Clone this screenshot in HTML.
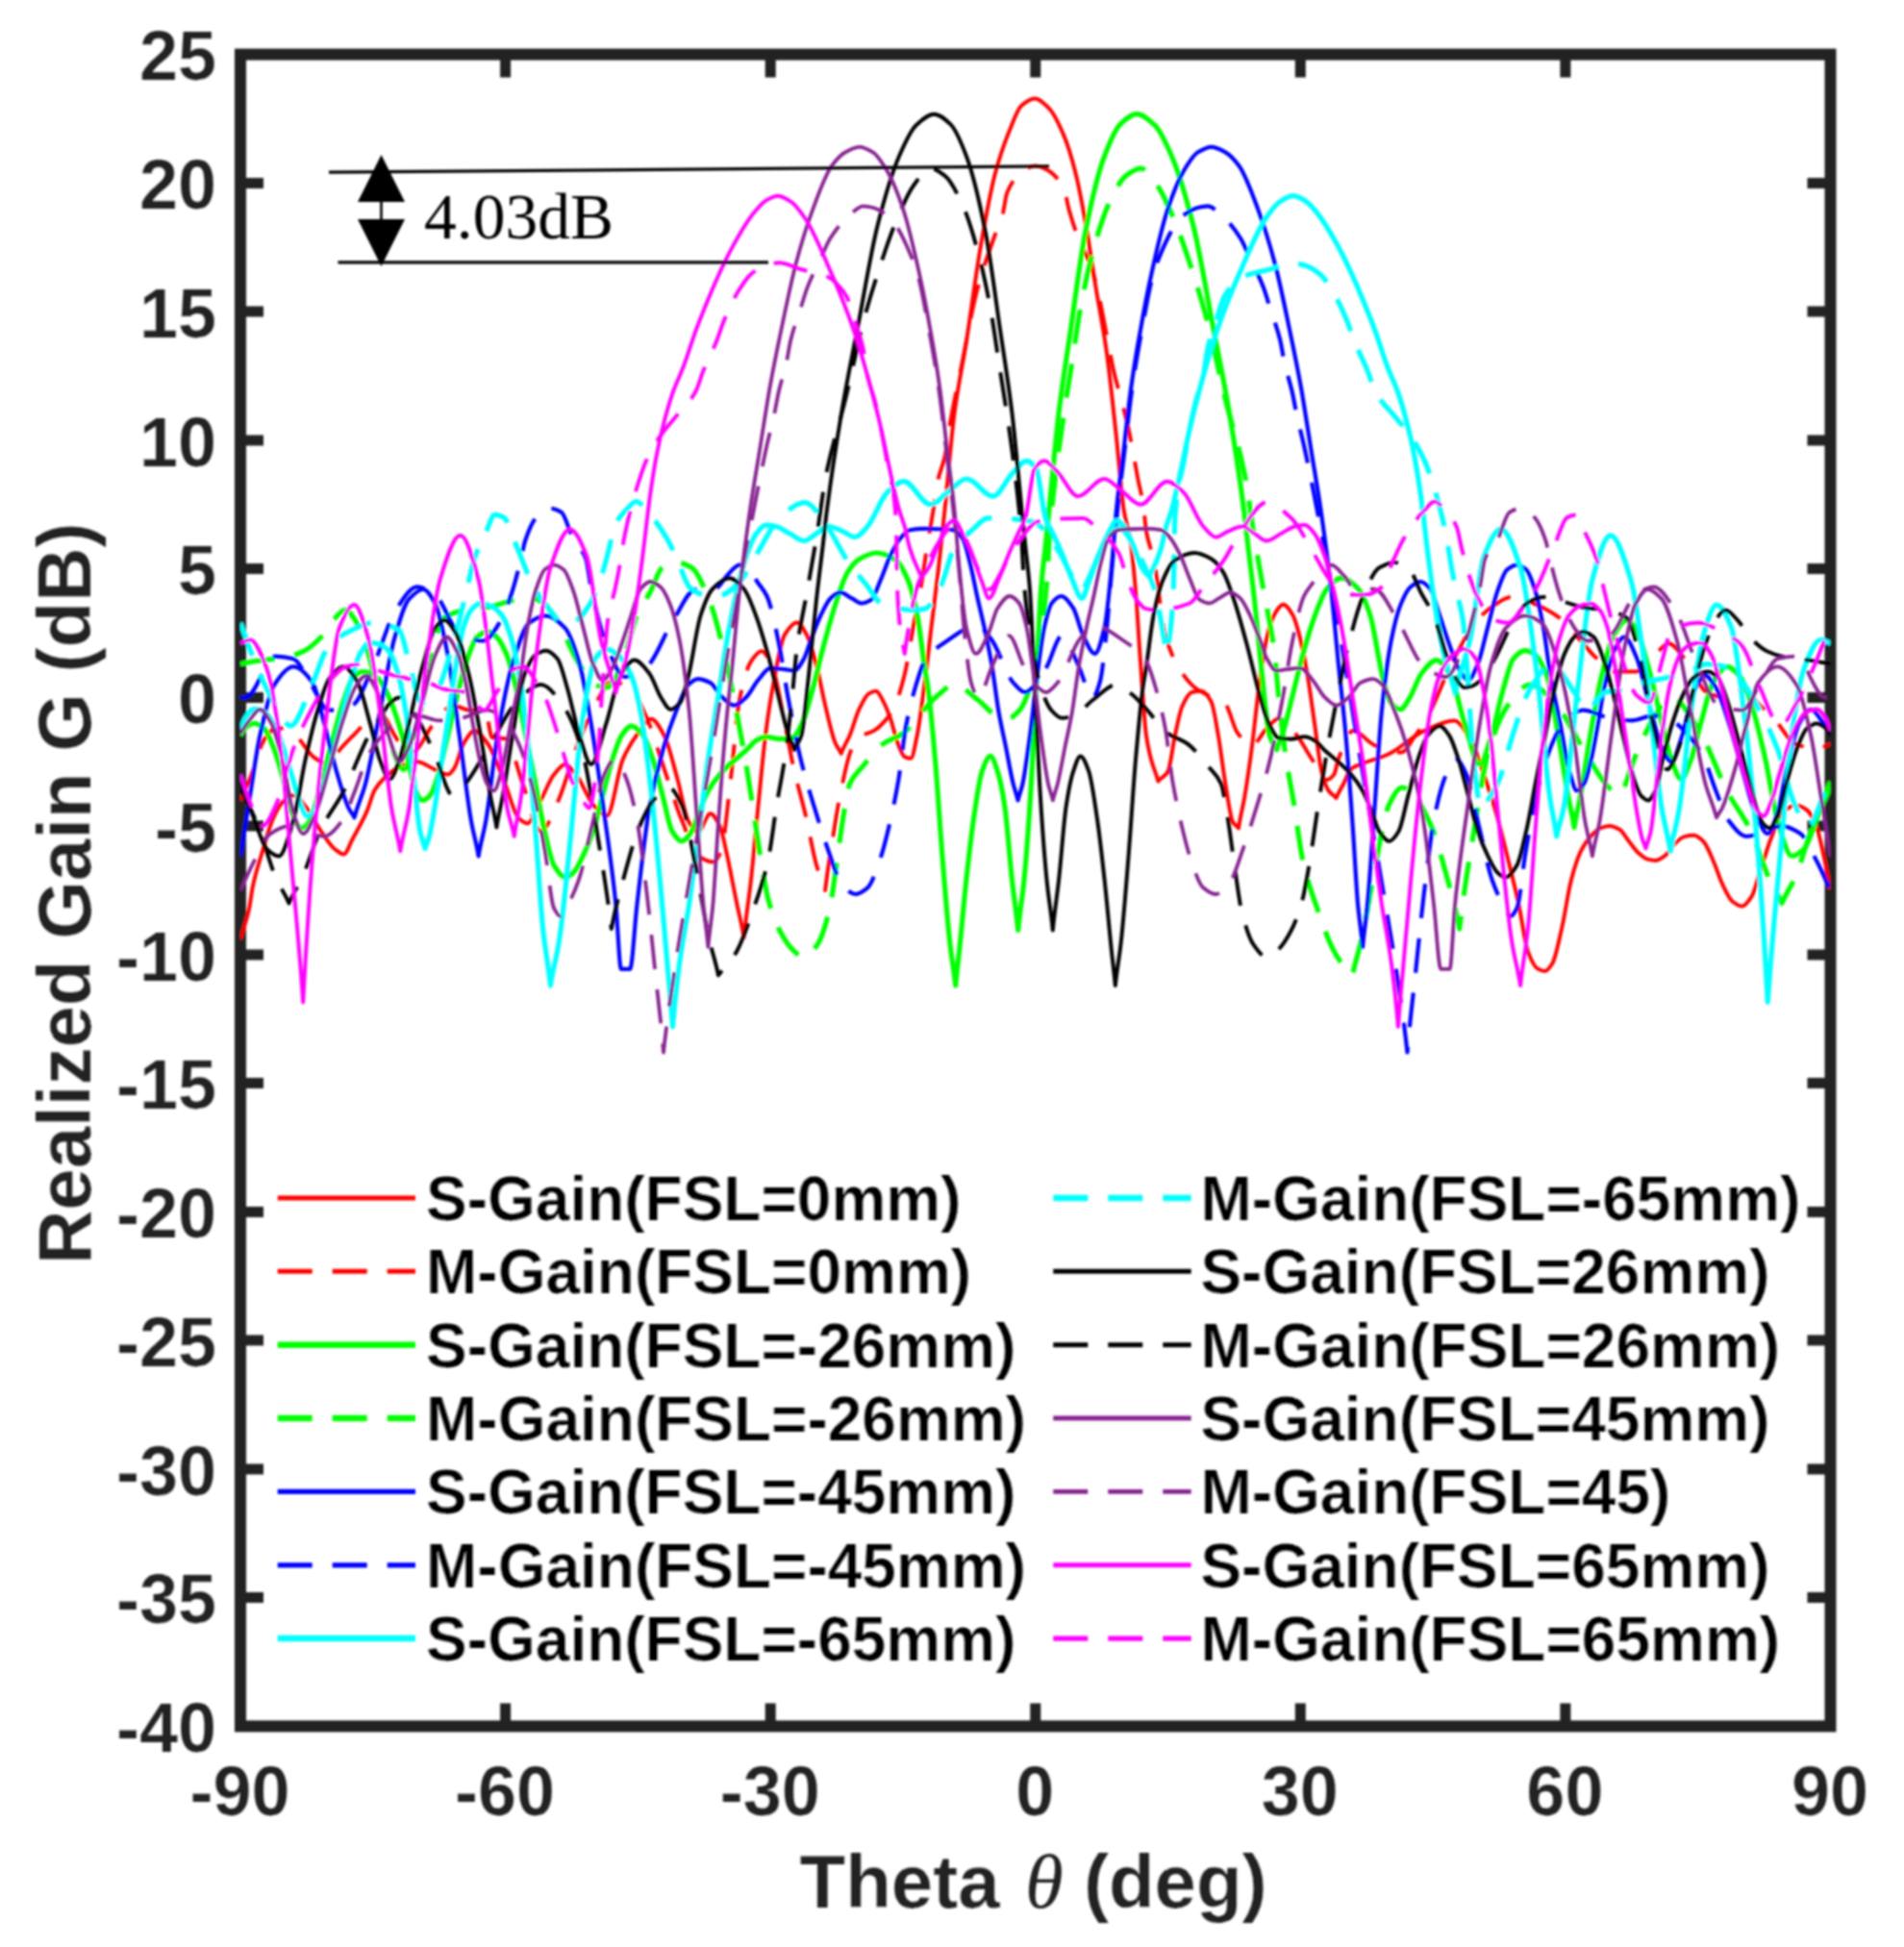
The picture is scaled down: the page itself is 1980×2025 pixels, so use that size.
<!DOCTYPE html>
<html><head><meta charset="utf-8"><title>Realized Gain</title>
<style>html,body{margin:0;padding:0;background:#fff}svg{display:block}text{font-family:"Liberation Sans",sans-serif;font-weight:bold}.tk{font-size:72px;fill:#222}.lb{font-size:78px;fill:#222}.lg{font-size:64px;fill:#000}.tk,.lb,.lg{stroke:#fff;stroke-width:0.22px;stroke-linejoin:round}.an{font-family:"Liberation Serif",serif;font-weight:normal;font-size:67.5px;fill:#000}</style></head><body>
<svg width="1980" height="2025" viewBox="0 0 1980 2025">
<rect width="1980" height="2025" fill="#fff"/>
<defs><clipPath id="cp"><rect x="250.0" y="56.6" width="1653.5" height="1738.8"/></clipPath><filter id="bl" x="-2%" y="-2%" width="104%" height="104%"><feGaussianBlur stdDeviation="1.15"/></filter></defs>
<g filter="url(#bl)">
<rect x="250.0" y="56.6" width="1653.5" height="1738.8" fill="none" stroke="#222222" stroke-width="12.0"/>
<path d="M525.6 56.6 v24.0 M525.6 1795.4 v-24.0M801.2 56.6 v24.0 M801.2 1795.4 v-24.0M1076.8 56.6 v24.0 M1076.8 1795.4 v-24.0M1352.3 56.6 v24.0 M1352.3 1795.4 v-24.0M1627.9 56.6 v24.0 M1627.9 1795.4 v-24.0M250.0 1661.6 h24.0 M1903.5 1661.6 h-24.0M250.0 1527.9 h24.0 M1903.5 1527.9 h-24.0M250.0 1394.1 h24.0 M1903.5 1394.1 h-24.0M250.0 1260.4 h24.0 M1903.5 1260.4 h-24.0M250.0 1126.6 h24.0 M1903.5 1126.6 h-24.0M250.0 992.9 h24.0 M1903.5 992.9 h-24.0M250.0 859.1 h24.0 M1903.5 859.1 h-24.0M250.0 725.4 h24.0 M1903.5 725.4 h-24.0M250.0 591.6 h24.0 M1903.5 591.6 h-24.0M250.0 457.9 h24.0 M1903.5 457.9 h-24.0M250.0 324.1 h24.0 M1903.5 324.1 h-24.0M250.0 190.4 h24.0 M1903.5 190.4 h-24.0" stroke="#222222" stroke-width="11" fill="none"/>
<g clip-path="url(#cp)" fill="none" stroke-linejoin="round">
<path d="M250.0 976.8C253.1 966.1 256.1 959.0 259.2 944.7C260.4 939.0 261.6 927.8 262.9 922.0C265.9 907.4 269.0 898.9 272.0 888.5C275.9 875.6 279.7 861.1 283.5 852.4C286.7 845.1 290.0 838.2 293.2 835.0C297.2 831.1 301.1 827.0 305.1 827.0C309.7 827.0 314.3 834.9 318.9 840.4C324.1 846.7 329.3 858.1 334.5 865.5C339.1 872.1 343.7 879.6 348.3 883.2C351.4 885.6 354.4 888.5 357.5 888.5C360.5 888.5 363.6 878.1 366.7 872.5C371.7 863.2 376.8 854.8 381.8 843.1C384.4 837.0 387.0 826.1 389.6 821.7C393.3 815.4 397.0 811.7 400.7 808.3C405.6 803.8 410.5 799.7 415.4 797.6C421.5 795.0 427.6 792.2 433.7 792.2C439.8 792.2 446.0 797.8 452.1 800.3C456.7 802.2 461.3 805.6 465.9 805.6C468.0 805.6 470.2 802.2 472.3 799.2C475.7 794.5 479.0 778.1 482.4 772.7C486.1 766.8 489.8 760.1 493.4 760.1C498.0 760.1 502.6 767.3 507.2 773.5C513.3 781.8 519.5 801.5 525.6 816.3C530.2 827.5 534.8 846.9 539.4 851.1C542.4 853.9 545.5 856.4 548.5 856.4C553.1 856.4 557.7 840.8 562.3 832.4C566.9 823.9 571.5 811.3 576.1 805.6C579.9 800.9 583.8 794.9 587.6 794.9C591.4 794.9 595.2 801.1 599.1 805.6C605.2 812.9 611.3 831.3 617.4 837.7C622.0 842.6 626.6 848.4 631.2 848.4C636.7 848.4 642.2 802.3 647.8 789.6C653.0 777.6 658.2 769.7 663.4 762.8C668.0 756.7 672.6 747.8 677.2 747.8C681.7 747.8 686.3 757.0 690.9 765.5C695.5 774.0 700.1 794.5 704.7 811.0C708.4 824.1 712.1 847.5 715.7 853.8C719.1 859.5 722.5 865.0 725.8 865.0C730.1 865.0 734.4 846.3 738.7 846.3C742.1 846.3 745.4 852.9 748.8 859.9C751.3 865.0 753.7 879.0 756.2 889.9C759.5 904.9 762.9 923.6 766.3 939.9C768.7 951.8 771.2 960.4 773.6 975.0C776.1 950.0 778.5 937.3 781.0 915.0C783.4 892.8 785.9 864.3 788.3 839.9C790.9 814.2 793.5 785.2 796.0 765.0C798.5 745.2 801.0 728.4 803.6 714.9C807.7 692.5 811.9 666.8 816.0 660.1C820.3 653.2 824.5 647.5 828.7 647.5C832.1 647.5 835.5 654.1 838.8 660.1C842.1 665.9 845.3 678.2 848.6 690.1C851.9 702.2 855.2 721.4 858.5 735.0C861.8 748.7 865.2 764.5 868.5 772.5C870.6 777.4 872.6 779.0 874.7 783.7C877.6 775.9 880.6 772.0 883.6 765.0C886.9 757.1 890.2 744.1 893.5 737.4C896.8 730.6 900.2 723.2 903.5 721.4C906.0 719.9 908.5 718.7 911.0 718.7C913.6 718.7 916.2 725.2 918.7 729.9C921.2 734.4 923.6 740.7 926.1 747.6C928.5 754.5 931.0 766.3 933.4 772.5C936.0 778.8 938.5 786.5 941.1 787.4C943.1 788.2 945.2 788.8 947.2 788.8C949.4 788.8 951.5 775.2 953.7 765.0C956.1 753.3 958.6 733.2 961.0 714.9C963.5 696.2 966.0 673.4 968.5 652.6C971.0 631.8 973.6 612.1 976.1 590.0C978.2 571.2 980.4 550.7 982.5 530.1C985.8 498.0 989.2 455.3 992.5 430.0C996.7 398.5 1000.8 381.2 1005.0 354.9C1010.0 323.4 1015.0 283.6 1020.0 255.1C1025.0 226.4 1030.0 198.7 1035.0 179.9C1040.1 161.2 1045.1 147.2 1050.1 135.0C1054.1 125.3 1058.1 113.6 1062.1 110.1C1066.7 106.1 1071.4 102.6 1076.0 102.6C1081.0 102.6 1086.0 107.8 1091.0 112.8C1096.0 117.7 1101.0 128.4 1106.0 140.1C1110.2 149.8 1114.4 163.5 1118.5 179.9C1121.9 193.0 1125.2 211.3 1128.6 229.9C1131.9 248.4 1135.2 272.2 1138.5 292.5C1142.6 318.2 1146.8 337.6 1151.0 367.4C1154.3 391.4 1157.6 424.2 1161.0 455.2C1163.5 478.8 1166.1 513.9 1168.6 530.1C1171.1 545.7 1173.5 548.8 1176.0 564.9C1177.6 575.9 1179.3 594.9 1181.0 614.9C1182.7 634.9 1184.4 667.1 1186.1 690.1C1188.1 717.2 1190.0 750.9 1192.0 765.0C1193.7 776.8 1195.4 783.6 1197.1 790.1C1199.5 799.5 1202.0 803.2 1204.4 812.6C1207.8 808.3 1211.2 808.3 1214.5 802.4C1217.0 798.1 1219.4 776.1 1221.9 765.0C1224.3 753.9 1226.8 740.5 1229.2 735.0C1232.6 727.5 1236.0 720.8 1239.3 720.0C1242.7 719.2 1246.1 718.7 1249.4 718.7C1252.8 718.7 1256.2 723.6 1259.6 729.9C1262.0 734.5 1264.5 751.2 1266.9 765.0C1269.4 778.7 1271.8 800.6 1274.3 815.0C1276.9 830.2 1279.5 850.8 1282.1 855.1C1284.0 858.4 1286.0 858.7 1288.0 861.3C1290.2 847.2 1292.3 840.2 1294.5 827.6C1296.9 813.1 1299.4 796.1 1301.8 777.5C1304.3 759.0 1306.7 732.8 1309.2 714.9C1311.8 695.8 1314.4 676.1 1317.1 664.9C1319.6 653.9 1322.2 644.5 1324.8 640.0C1328.0 634.4 1331.3 628.8 1334.5 628.8C1337.8 628.8 1341.2 634.4 1344.5 640.0C1347.1 644.4 1349.7 654.7 1352.3 664.9C1354.8 674.5 1357.2 688.1 1359.7 702.4C1362.1 716.6 1364.6 735.4 1367.0 752.1C1369.5 768.8 1371.9 792.9 1374.4 802.4C1376.8 812.0 1379.3 819.0 1381.7 822.5C1384.3 826.2 1386.9 826.8 1389.5 830.0C1392.1 823.7 1394.7 820.1 1397.3 815.0C1399.8 810.1 1402.2 802.0 1404.7 800.0C1408.1 797.2 1411.4 796.4 1414.8 794.9C1424.6 790.7 1434.4 788.8 1444.2 784.2C1456.4 778.5 1468.7 765.6 1480.9 760.1C1491.3 755.5 1501.8 749.4 1512.2 749.4C1518.6 749.4 1525.0 762.1 1531.5 773.5C1535.0 779.9 1538.6 792.7 1542.1 802.9C1546.2 814.8 1550.3 826.5 1554.4 840.4C1558.7 855.0 1563.0 872.7 1567.3 889.9C1571.3 905.9 1575.2 921.5 1579.2 939.9C1582.5 954.9 1585.7 981.4 1589.0 989.9C1592.3 998.7 1595.6 1005.8 1599.0 1007.6C1601.5 1008.9 1604.0 1010.0 1606.5 1010.0C1609.1 1010.0 1611.6 1006.4 1614.1 1002.5C1617.5 997.4 1620.9 979.6 1624.2 965.1C1627.5 951.1 1630.7 927.3 1634.0 915.0C1637.3 902.4 1640.7 891.7 1644.0 885.1C1647.3 878.4 1650.7 873.8 1654.0 870.1C1657.3 866.4 1660.7 862.5 1664.0 861.3C1667.3 860.0 1670.6 858.9 1673.8 858.9C1677.2 858.9 1680.6 860.7 1684.0 862.6C1687.3 864.5 1690.7 871.0 1694.1 875.2C1697.4 879.3 1700.8 884.6 1704.2 887.5C1707.4 890.3 1710.7 893.2 1714.0 893.9C1716.5 894.5 1719.0 895.0 1721.5 895.0C1724.9 895.0 1728.2 892.3 1731.5 889.9C1734.9 887.5 1738.2 880.7 1741.5 877.6C1744.9 874.5 1748.2 870.8 1751.6 870.1C1754.9 869.3 1758.2 868.8 1761.6 868.8C1764.9 868.8 1768.2 872.0 1771.5 875.2C1774.8 878.4 1778.2 887.6 1781.5 895.0C1784.8 902.3 1788.1 913.3 1791.4 920.1C1794.8 927.0 1798.2 934.9 1801.5 937.5C1804.9 940.1 1808.3 942.6 1811.6 942.6C1814.9 942.6 1818.3 937.5 1821.6 932.4C1824.9 927.3 1828.2 912.5 1831.6 902.5C1834.9 892.5 1838.2 881.0 1841.5 872.5C1845.6 861.9 1849.8 848.8 1853.9 844.9C1858.2 841.0 1862.5 837.5 1866.8 837.5C1870.9 837.5 1875.0 839.7 1879.1 842.5C1882.4 844.8 1885.7 851.7 1889.1 859.9C1891.6 866.1 1894.0 878.8 1896.5 889.9C1898.8 900.3 1901.2 913.2 1903.5 924.9" stroke="#ff0000" stroke-width="4.0"/>
<path d="M250.0 832.4C253.7 823.9 257.3 816.2 261.0 807.0C265.3 796.1 269.6 777.4 273.9 770.8C278.2 764.3 282.5 757.5 286.7 757.5C289.5 757.5 292.3 757.5 295.0 757.5C299.3 757.5 303.6 762.1 307.9 765.5C314.3 770.6 320.7 784.1 327.2 788.2C332.1 791.4 337.0 794.9 341.9 794.9C345.5 794.9 349.2 784.6 352.9 780.2C358.4 773.7 363.9 768.4 369.4 762.8C373.7 758.5 378.0 752.8 382.3 750.2C387.2 747.3 392.1 744.1 397.0 744.1C401.6 744.1 406.2 758.8 410.8 765.5C415.4 772.2 419.9 784.2 424.5 784.2C427.3 784.2 430.0 782.1 432.8 780.2C437.7 776.8 442.6 764.2 447.5 757.5C451.5 752.0 455.5 746.8 459.4 742.8C463.1 739.1 466.8 733.4 470.5 733.4C476.6 733.4 482.7 738.7 488.8 738.7C494.0 738.7 499.2 738.7 504.5 738.7C506.9 738.7 509.4 766.7 511.8 767.1C516.4 767.9 521.0 767.5 525.6 768.2C531.7 769.1 537.8 800.3 544.0 816.3C550.1 832.4 556.2 864.5 562.3 864.5C568.5 864.5 574.6 845.7 580.7 832.4C586.8 819.0 592.9 794.7 599.1 778.9C605.2 763.0 611.3 747.0 617.4 736.1C623.6 725.1 629.7 709.3 635.8 709.3C641.9 709.3 648.1 711.6 654.2 714.7C660.3 717.7 666.4 733.4 672.6 746.8C678.7 760.1 684.8 782.4 690.9 800.3C697.1 818.1 703.2 839.1 709.3 853.8C715.4 868.5 721.6 887.4 727.7 891.2C732.3 894.1 736.9 896.6 741.5 896.6C744.2 896.6 747.0 891.8 749.7 885.9C753.1 878.6 756.5 838.4 759.8 811.0C762.9 786.0 766.0 743.3 769.0 728.0C773.0 708.2 777.0 693.9 781.0 687.9C784.6 682.4 788.3 677.2 792.0 677.2C795.7 677.2 799.3 685.2 803.0 693.3C806.7 701.3 810.4 724.1 814.0 741.4C817.7 758.7 821.4 781.2 825.1 797.6C829.3 816.7 833.6 830.1 837.9 848.4C841.6 864.1 845.3 886.2 848.9 899.2C852.0 910.1 855.1 914.9 858.1 926.0C860.6 904.8 863.0 890.7 865.5 875.2C868.5 855.7 871.6 836.0 874.7 821.7C878.3 804.4 882.0 786.1 885.7 778.9C889.0 772.3 892.4 767.7 895.8 765.5C900.1 762.7 904.4 762.6 908.6 760.1C912.6 757.9 916.6 754.0 920.6 749.4C924.0 745.6 927.3 740.6 930.7 733.4C934.2 726.0 937.6 714.2 941.1 700.0C943.7 689.0 946.4 670.1 949.1 655.8C951.8 641.1 954.6 629.0 957.3 613.0C959.8 598.8 962.2 579.9 964.7 564.9C966.5 553.6 968.4 544.1 970.2 532.8C971.8 522.7 973.4 508.2 975.1 500.7C977.5 489.2 980.0 486.2 982.5 475.0C984.2 467.2 985.9 452.4 987.6 442.6C991.9 418.2 996.2 399.0 1000.5 377.6C1005.4 353.2 1010.3 324.4 1015.2 305.4C1021.0 282.8 1026.8 267.0 1032.7 250.0C1036.0 240.2 1039.4 234.7 1042.8 222.5C1044.3 216.9 1045.8 203.4 1047.4 200.0C1054.1 184.8 1060.8 178.1 1067.6 175.1C1070.6 173.8 1073.7 172.4 1076.8 172.4C1079.8 172.4 1082.9 173.8 1085.9 175.1C1092.7 178.0 1099.4 183.4 1106.1 195.7C1108.1 199.3 1110.1 212.9 1112.1 219.8C1115.5 231.5 1118.9 241.5 1122.2 250.0C1126.0 259.7 1129.9 264.6 1133.7 274.9C1136.2 281.5 1138.6 290.2 1141.1 300.0C1144.1 312.3 1147.2 330.2 1150.2 345.5C1153.0 359.3 1155.8 375.7 1158.5 387.5C1161.0 398.0 1163.4 405.6 1165.9 415.1C1168.3 424.5 1170.8 433.4 1173.2 444.5C1175.0 452.8 1176.9 462.8 1178.7 472.6C1180.2 480.7 1181.8 490.1 1183.3 498.0C1185.1 507.5 1187.0 513.0 1188.8 524.7C1189.9 531.6 1191.0 546.5 1192.0 552.6C1194.6 567.2 1197.2 570.2 1199.8 582.5C1203.8 601.4 1207.8 645.6 1211.8 660.1C1216.1 675.7 1220.4 685.1 1224.6 692.5C1230.5 702.5 1236.3 710.0 1242.1 714.7C1248.2 719.6 1254.3 722.0 1260.5 725.4C1265.1 727.9 1269.7 728.6 1274.3 732.6C1278.5 736.3 1282.8 757.1 1287.1 762.6C1292.0 768.7 1296.9 775.1 1301.8 775.1C1307.0 775.1 1312.2 762.4 1317.4 757.5C1321.4 753.7 1325.4 747.6 1329.4 747.6C1335.2 747.6 1341.0 756.1 1346.8 762.6C1352.6 769.0 1358.5 781.1 1364.3 789.6C1369.5 797.1 1374.7 811.0 1379.9 811.0C1382.3 811.0 1384.8 808.7 1387.2 805.6C1388.8 803.7 1390.3 793.6 1391.8 789.6C1396.9 776.2 1402.0 760.1 1407.1 760.1C1414.6 760.1 1422.0 772.2 1429.5 775.1C1438.7 778.7 1447.9 782.6 1457.1 782.6C1462.0 782.6 1466.9 771.7 1471.8 765.0C1477.0 757.8 1482.2 749.9 1487.4 740.1C1492.3 730.9 1497.2 717.2 1502.1 706.6C1507.3 695.4 1512.5 683.9 1517.7 674.5C1523.8 663.5 1529.9 652.0 1536.1 645.1C1542.2 638.2 1548.3 632.9 1554.4 629.1C1559.9 625.6 1565.5 621.0 1571.0 621.0C1577.7 621.0 1584.4 624.1 1591.2 626.4C1601.3 629.9 1611.4 635.1 1621.5 642.4C1628.2 647.3 1635.0 656.5 1641.7 663.8C1647.2 669.9 1652.7 677.4 1658.2 682.6C1665.0 688.9 1671.7 698.6 1678.4 698.6C1686.1 698.6 1693.8 698.6 1701.4 698.6C1707.5 698.6 1713.7 687.9 1719.8 682.6C1725.0 678.1 1730.2 669.2 1735.4 669.2C1740.9 669.2 1746.4 678.8 1751.9 685.2C1759.6 694.2 1767.2 716.4 1774.9 720.0C1781.0 722.9 1787.1 725.4 1793.3 725.4C1799.4 725.4 1805.5 717.3 1811.6 717.3C1817.8 717.3 1823.9 727.6 1830.0 733.4C1836.1 739.2 1842.3 745.5 1848.4 752.1C1854.5 758.8 1860.6 771.1 1866.8 773.5C1874.4 776.6 1882.1 778.9 1889.7 778.9C1894.3 778.9 1898.9 775.3 1903.5 773.5" stroke="#ff0000" stroke-width="4.0" stroke-dasharray="36 21"/>
<path d="M250.0 765.0C251.5 762.5 253.1 758.8 254.6 757.5C257.9 754.7 261.1 752.4 264.4 752.4C267.8 752.4 271.1 754.8 274.4 757.5C277.8 760.2 281.1 769.3 284.4 777.5C287.8 785.8 291.1 798.3 294.5 809.9C297.8 821.5 301.1 840.3 304.5 847.6C307.4 854.0 310.3 861.3 313.2 861.3C315.3 861.3 317.4 859.5 319.4 857.5C322.0 855.2 324.5 847.0 327.0 839.9C330.3 830.3 333.7 814.9 337.0 802.4C340.3 789.9 343.7 777.1 347.0 765.0C350.3 752.9 353.6 739.6 356.9 729.9C360.3 720.2 363.6 708.4 366.9 705.0C370.3 701.6 373.6 698.6 377.0 698.6C379.5 698.6 382.0 699.3 384.5 700.0C387.8 700.9 391.2 703.9 394.5 707.4C397.8 711.0 401.2 718.0 404.5 725.1C407.8 732.2 411.1 741.7 414.4 752.1C417.8 762.8 421.2 776.5 424.5 790.1C427.0 800.1 429.5 817.5 432.0 822.5C434.5 827.5 437.0 832.4 439.5 832.4C442.0 832.4 444.5 830.1 447.0 827.6C449.5 825.0 452.0 817.2 454.5 809.9C457.8 800.2 461.2 783.8 464.5 770.0C467.8 756.3 471.2 740.8 474.5 727.5C477.8 714.2 481.2 699.8 484.5 690.1C488.4 678.7 492.3 665.7 496.2 662.5C499.9 659.4 503.5 656.9 507.2 656.9C510.3 656.9 513.3 659.8 516.4 662.5C519.8 665.5 523.1 672.1 526.5 679.9C529.9 687.6 533.2 701.2 536.6 714.9C540.0 728.7 543.3 748.3 546.7 765.0C550.1 781.6 553.4 797.9 556.8 815.0C560.0 831.3 563.2 851.3 566.5 865.0C569.7 878.7 572.9 894.7 576.1 900.1C580.1 906.7 584.1 912.6 588.0 912.6C590.8 912.6 593.6 910.0 596.3 907.5C599.7 904.5 603.1 896.8 606.4 889.9C609.8 883.0 613.2 875.0 616.5 865.0C619.9 855.0 623.3 840.0 626.6 827.6C630.0 815.1 633.4 800.4 636.7 790.1C640.0 780.3 643.2 769.6 646.4 765.0C649.7 760.2 653.1 755.1 656.4 755.1C660.6 755.1 664.7 759.9 668.9 765.0C672.3 769.1 675.6 780.1 679.0 790.1C682.4 800.1 685.7 815.1 689.1 827.6C692.5 840.0 695.8 859.7 699.2 865.0C702.4 870.2 705.7 874.9 708.9 874.9C712.3 874.9 715.6 869.9 719.0 865.0C721.6 861.2 724.2 851.3 726.8 844.9C730.0 837.1 733.2 828.2 736.4 822.5C740.5 815.2 744.7 809.9 748.8 805.1C753.1 800.1 757.4 796.4 761.7 792.5C766.6 788.0 771.5 784.4 776.4 779.9C779.7 776.9 783.1 771.9 786.5 770.0C789.8 768.2 793.2 766.3 796.6 766.3C801.5 766.3 806.4 768.7 811.3 768.7C815.6 768.7 819.8 768.2 824.1 767.4C827.5 766.7 830.9 759.0 834.2 752.1C837.6 745.2 841.0 731.9 844.3 720.0C848.3 706.0 852.3 687.2 856.3 672.4C860.6 656.4 864.9 640.3 869.1 627.5C873.2 615.2 877.4 601.5 881.5 595.1C885.6 588.6 889.8 583.5 893.9 581.2C899.8 578.0 905.6 575.0 911.4 575.0C918.1 575.0 924.9 578.2 931.6 582.5C935.7 585.1 939.8 593.1 943.9 602.6C947.3 610.3 950.6 623.5 953.9 640.0C956.4 652.5 959.0 676.8 961.5 693.3C962.6 700.9 963.8 706.3 965.0 714.9C967.5 733.6 970.0 761.4 972.5 790.1C975.0 818.5 977.4 859.0 979.9 889.9C982.4 921.2 985.0 954.7 987.5 977.6C989.5 996.6 991.6 1005.2 993.7 1025.0C995.0 1010.4 996.2 1002.0 997.5 989.9C1000.0 966.1 1002.4 937.6 1004.9 915.0C1007.4 892.2 1009.9 869.5 1012.4 852.4C1015.4 832.6 1018.3 810.5 1021.2 802.4C1024.1 794.3 1027.0 786.4 1029.9 786.4C1032.4 786.4 1034.9 794.9 1037.4 802.4C1039.9 809.9 1042.5 823.1 1045.0 839.9C1047.4 856.4 1049.9 892.5 1052.4 915.0C1054.5 934.2 1056.6 945.6 1058.7 967.5C1060.8 945.6 1062.9 936.4 1065.0 915.0C1067.5 889.6 1070.0 855.2 1072.4 815.0C1074.1 787.7 1075.8 748.6 1077.5 714.9C1079.1 681.9 1080.8 636.9 1082.4 614.9C1084.1 592.5 1085.8 581.6 1087.5 564.9C1088.7 553.3 1089.8 541.7 1091.0 530.1C1094.3 496.8 1097.7 457.7 1101.0 430.0C1105.2 395.5 1109.3 371.1 1113.5 342.6C1118.5 308.4 1123.5 267.8 1128.5 242.5C1135.1 208.7 1141.8 180.2 1148.5 162.5C1154.0 148.0 1159.5 134.6 1164.9 129.4C1170.7 123.9 1176.4 118.7 1182.2 118.7C1188.4 118.7 1194.6 124.4 1200.8 130.2C1206.7 135.7 1212.6 148.9 1218.5 162.5C1226.0 179.8 1233.5 205.2 1241.0 235.0C1247.7 261.5 1254.3 302.7 1261.0 337.5C1266.8 367.8 1272.7 395.6 1278.5 430.0C1283.5 459.7 1288.5 491.0 1293.5 530.1C1294.9 540.3 1296.2 553.5 1297.5 564.9C1300.0 586.3 1302.5 604.9 1304.9 627.5C1307.4 650.3 1310.0 679.9 1312.5 702.4C1315.0 725.4 1317.6 756.6 1320.2 765.0C1322.6 772.9 1325.1 773.7 1327.5 779.9C1330.0 771.6 1332.4 767.7 1334.9 759.9C1338.2 749.1 1341.6 733.3 1345.0 720.0C1348.4 706.7 1351.7 691.9 1355.1 679.9C1359.2 665.2 1363.4 650.9 1367.5 640.0C1371.6 629.2 1375.8 617.2 1379.9 612.5C1384.9 606.8 1389.9 601.2 1395.0 601.2C1400.8 601.2 1406.7 606.5 1412.5 612.5C1416.6 616.7 1420.8 627.4 1424.9 640.0C1429.2 653.2 1433.5 687.5 1437.8 704.0C1440.5 714.5 1443.3 727.1 1446.0 730.5C1449.4 734.6 1452.8 737.9 1456.1 737.9C1459.5 737.9 1462.9 730.6 1466.2 725.4C1470.2 719.2 1474.2 705.5 1478.2 700.5C1483.4 693.9 1488.6 686.6 1493.8 686.6C1498.7 686.6 1503.6 694.7 1508.5 702.9C1513.4 711.1 1518.3 738.2 1523.2 752.9C1528.4 768.6 1533.6 794.9 1538.8 794.9C1542.8 794.9 1546.8 777.5 1550.8 765.5C1555.0 752.6 1559.3 729.9 1563.6 715.5C1567.0 704.1 1570.4 689.2 1573.7 685.2C1577.7 680.6 1581.7 676.7 1585.7 676.7C1589.0 676.7 1592.4 678.4 1595.8 680.4C1600.1 683.0 1604.3 691.6 1608.6 702.9C1612.6 713.4 1616.6 742.9 1620.6 765.5C1623.9 784.6 1627.3 809.2 1630.7 827.8C1632.8 839.7 1635.0 846.9 1637.1 860.5C1639.2 846.9 1641.4 839.7 1643.5 827.8C1646.9 809.2 1650.3 784.6 1653.6 765.5C1657.6 742.9 1661.6 719.1 1665.6 702.9C1669.9 685.5 1674.2 667.8 1678.4 660.4C1682.7 652.9 1687.0 645.1 1691.3 645.1C1694.5 645.1 1697.7 649.0 1700.9 653.1C1705.1 658.4 1709.2 676.3 1713.3 690.6C1718.4 708.1 1723.5 732.8 1728.5 752.9C1731.7 765.7 1734.9 781.9 1738.2 790.4C1741.5 799.2 1744.9 810.4 1748.3 810.4C1751.6 810.4 1755.0 799.1 1758.4 790.4C1761.7 781.7 1765.1 764.7 1768.5 752.9C1772.8 737.9 1777.0 717.9 1781.3 710.4C1786.2 701.9 1791.1 693.3 1796.0 693.3C1800.9 693.3 1805.8 699.1 1810.7 705.3C1815.0 710.8 1819.3 726.4 1823.6 740.3C1827.7 753.8 1831.8 771.8 1836.0 790.4C1840.1 808.9 1844.2 839.1 1848.4 853.0C1853.4 869.9 1858.5 890.4 1863.5 890.4C1867.7 890.4 1871.8 887.0 1875.9 883.2C1880.2 879.2 1884.5 863.8 1888.8 853.0C1893.7 840.6 1898.6 826.2 1903.5 812.8" stroke="#00ff00" stroke-width="5.2"/>
<path d="M250.0 690.6C254.6 689.7 259.2 688.6 263.8 687.9C274.5 686.2 285.2 685.9 295.9 683.9C302.7 682.6 309.4 680.4 316.1 677.2C321.7 674.6 327.2 669.5 332.7 663.8C337.3 659.1 341.9 649.8 346.5 645.1C350.7 640.7 355.0 634.4 359.3 634.4C362.7 634.4 366.1 640.2 369.4 645.1C373.7 651.4 378.0 664.0 382.3 677.2C385.6 687.6 389.0 703.8 392.4 717.3C397.0 735.8 401.6 761.4 406.2 773.5C410.8 785.6 415.4 800.3 419.9 800.3C424.5 800.3 429.1 775.4 433.7 757.5C438.3 739.6 442.9 702.5 447.5 685.2C452.4 666.8 457.3 645.8 462.2 642.4C469.5 637.4 476.9 635.7 484.2 634.4C491.9 633.1 499.6 633.0 507.2 631.7C513.3 630.7 519.5 628.0 525.6 626.4C533.2 624.4 540.9 621.0 548.5 621.0C553.8 621.0 559.0 623.6 564.2 626.4C569.7 629.4 575.2 639.1 580.7 647.8C586.8 657.5 592.9 674.7 599.1 685.2C604.0 693.7 608.9 702.9 613.8 707.4C616.5 710.0 619.3 712.5 622.0 713.3C625.1 714.2 628.2 714.9 631.2 714.9C634.3 714.9 637.3 708.9 640.4 704.0C643.8 698.5 647.1 688.1 650.5 678.6C654.2 668.1 657.9 651.2 661.5 642.4C666.4 630.8 671.3 625.0 676.2 615.7C680.5 607.5 684.8 592.6 689.1 590.0C694.0 587.1 698.9 584.9 703.8 584.9C708.8 584.9 713.9 587.4 719.0 590.3C724.8 593.6 730.6 607.4 736.4 621.0C741.8 633.6 747.1 654.6 752.5 676.1C756.3 691.5 760.1 711.5 764.0 730.7C767.5 748.4 771.0 766.6 774.5 786.9C777.4 803.7 780.3 823.0 783.3 841.7C786.2 860.5 789.1 882.6 792.0 899.2C794.4 913.3 796.9 927.9 799.3 936.7C803.3 951.1 807.3 961.3 811.3 968.8C815.6 976.9 819.8 983.6 824.1 987.5C828.1 991.2 832.1 995.6 836.1 995.6C840.8 995.6 845.5 989.0 850.2 982.2C854.2 976.4 858.2 963.7 862.3 947.4C865.2 935.6 868.1 910.8 871.0 891.2C872.8 878.8 874.7 863.4 876.5 852.4C878.9 837.8 881.4 820.5 883.8 815.0C888.1 805.3 892.4 802.8 896.7 797.6C904.1 788.6 911.4 778.7 918.7 773.5C925.5 768.7 932.2 767.6 939.0 762.8C946.5 757.4 954.0 745.5 961.5 737.4C966.2 732.3 971.0 726.5 975.7 722.7C981.2 718.3 986.7 712.0 992.2 712.0C1000.5 712.0 1008.8 722.0 1017.0 728.0C1023.5 732.8 1029.9 742.0 1036.3 744.1C1040.6 745.5 1044.9 746.8 1049.2 746.8C1052.9 746.8 1056.5 742.8 1060.2 738.7C1063.9 734.7 1067.6 725.7 1071.2 714.7C1074.6 704.5 1078.0 687.3 1081.3 666.5C1083.8 651.4 1086.2 634.3 1088.7 605.0C1089.6 594.0 1090.5 568.8 1091.4 556.8C1093.7 527.0 1096.0 509.3 1098.3 490.0C1100.9 468.1 1103.5 450.4 1106.1 432.4C1109.1 412.4 1112.0 395.0 1114.9 376.3C1117.7 358.0 1120.6 336.8 1123.4 321.4C1127.6 298.8 1131.8 279.4 1136.0 263.9C1141.8 242.5 1147.6 223.1 1153.5 211.0C1159.4 198.4 1165.4 186.7 1171.4 182.3C1176.3 178.7 1181.2 175.1 1186.1 175.1C1191.9 175.1 1197.7 185.1 1203.5 193.0C1209.3 201.0 1215.2 214.9 1221.0 228.6C1227.1 243.0 1233.2 261.3 1239.3 280.0C1244.5 295.9 1249.8 312.6 1255.0 332.1C1261.4 356.2 1267.8 388.7 1274.3 415.1C1281.0 442.6 1287.7 460.1 1294.5 494.0C1297.7 510.2 1300.9 537.1 1304.1 556.8C1307.3 576.6 1310.5 594.7 1313.8 613.0C1317.4 634.0 1321.1 647.2 1324.8 674.5C1326.5 687.1 1328.1 709.7 1329.8 725.4C1332.1 746.7 1334.4 768.2 1336.7 784.2C1339.8 805.6 1342.8 819.0 1345.9 837.7C1348.8 855.5 1351.7 880.7 1354.6 893.9C1360.3 919.5 1366.0 933.8 1371.6 950.1C1376.5 964.1 1381.4 978.0 1386.3 987.5C1389.1 992.9 1391.8 997.2 1394.6 1000.9C1398.6 1006.2 1402.6 1008.7 1406.5 1014.3C1409.9 997.6 1413.3 989.5 1416.6 974.2C1421.2 953.2 1425.8 921.8 1430.4 899.2C1435.0 876.7 1439.6 847.3 1444.2 837.7C1448.8 828.2 1453.4 819.0 1458.0 819.0C1462.6 819.0 1467.2 824.8 1471.8 829.7C1477.3 835.6 1482.8 846.5 1488.3 859.1C1493.8 871.8 1499.3 892.5 1504.8 912.6C1509.1 928.3 1513.4 943.8 1517.7 966.1C1522.3 927.1 1526.9 900.5 1531.5 872.5C1537.0 838.9 1542.5 800.1 1548.0 781.5C1554.7 758.8 1561.5 742.5 1568.2 733.4C1575.9 723.0 1583.5 712.0 1591.2 712.0C1600.4 712.0 1609.5 723.7 1618.7 733.4C1627.9 743.1 1637.1 764.4 1646.3 778.9C1655.2 792.9 1664.0 810.2 1672.9 819.0C1676.3 822.3 1679.7 827.0 1683.0 827.0C1688.9 827.0 1694.7 799.6 1700.5 786.9C1706.9 772.8 1713.3 756.4 1719.8 746.8C1725.9 737.6 1732.0 725.4 1738.2 725.4C1747.3 725.4 1756.5 743.7 1765.7 757.5C1776.1 773.1 1786.5 804.8 1796.9 824.3C1804.9 839.3 1812.9 848.0 1820.8 864.5C1826.9 877.1 1833.1 899.1 1839.2 912.6C1843.8 922.8 1848.4 928.2 1853.0 939.4C1857.6 928.2 1862.2 923.2 1866.8 912.6C1872.9 898.5 1879.0 874.4 1885.1 859.1C1891.3 843.8 1897.4 832.4 1903.5 819.0" stroke="#00ff00" stroke-width="5.2" stroke-dasharray="36 21"/>
<path d="M250.0 891.2C253.4 869.8 256.7 848.0 260.1 827.0C263.5 806.1 266.8 780.9 270.2 765.5C275.1 743.0 280.0 720.5 284.9 712.8C291.6 702.2 298.4 693.3 305.1 693.3C311.9 693.3 318.6 700.7 325.3 710.4C329.3 716.1 333.3 738.1 337.3 752.9C341.6 768.9 345.8 788.4 350.1 802.9C354.3 817.0 358.4 831.8 362.5 840.4C364.5 844.5 366.5 846.2 368.5 850.3C372.3 835.7 376.2 829.5 380.0 815.3C385.0 796.4 390.1 765.7 395.1 740.3C400.0 715.8 404.9 682.9 409.8 665.4C415.0 646.9 420.2 628.5 425.5 622.9C430.4 617.7 435.3 613.0 440.2 613.0C444.3 613.0 448.4 620.3 452.6 628.0C456.7 635.7 460.8 656.9 465.0 677.8C469.2 699.4 473.5 735.2 477.8 765.5C481.8 793.6 485.8 830.2 489.8 853.0C492.4 867.8 495.0 874.8 497.6 890.4C500.2 874.8 502.8 867.8 505.4 853.0C509.4 830.2 513.3 788.8 517.3 765.5C522.5 735.0 527.7 707.6 532.9 690.6C538.8 671.6 544.6 652.0 550.4 647.8C556.2 643.5 562.0 640.3 567.8 640.3C574.4 640.3 581.0 646.2 587.6 653.1C592.6 658.5 597.7 673.4 602.7 690.6C606.7 704.1 610.7 729.4 614.7 752.9C619.0 778.2 623.3 809.3 627.5 840.4C631.8 871.5 636.1 898.4 640.4 940.4C642.2 958.5 644.1 1007.9 645.9 1007.9C649.0 1007.9 652.0 1007.9 655.1 1007.9C657.6 1007.9 660.0 961.2 662.5 940.4C666.7 904.1 671.0 864.1 675.3 840.4C680.2 813.3 685.1 794.7 690.0 777.8C694.3 763.0 698.6 751.0 702.9 740.3C707.3 729.5 711.6 716.0 716.0 712.0C719.3 709.0 722.6 706.1 725.8 706.1C730.1 706.1 734.4 708.0 738.7 710.1C742.8 712.2 746.9 721.5 751.0 725.1C755.2 728.8 759.3 733.7 763.5 733.7C767.7 733.7 771.8 729.0 776.0 725.1C780.1 721.3 784.2 712.2 788.3 707.4C792.6 702.5 796.9 694.9 801.2 694.9C806.1 694.9 811.1 695.7 816.0 696.2C819.4 696.6 822.7 697.5 826.0 697.5C829.3 697.5 832.7 690.8 836.1 685.0C838.5 680.7 841.0 671.3 843.4 664.9C846.8 656.2 850.2 646.9 853.5 640.0C856.9 633.1 860.3 625.4 863.6 622.4C867.0 619.3 870.4 616.2 873.7 616.2C877.8 616.2 881.9 620.3 886.0 622.4C889.4 624.1 892.7 627.5 896.1 627.5C899.4 627.5 902.7 625.8 906.1 623.7C909.4 621.6 912.7 610.2 916.0 602.6C919.4 594.9 922.7 584.3 926.1 577.4C929.5 570.6 932.8 564.0 936.2 560.0C939.6 556.1 942.9 551.8 946.3 551.2C951.2 550.4 956.1 549.9 961.0 549.9C966.8 549.9 972.6 550.2 978.5 550.4C982.7 550.6 986.8 550.7 991.0 551.2C994.4 551.6 997.7 555.3 1001.1 560.0C1003.6 563.6 1006.1 575.2 1008.6 584.9C1011.1 594.6 1013.6 608.6 1016.1 620.0C1018.6 631.2 1021.1 641.0 1023.6 652.6C1026.1 664.3 1028.6 675.7 1031.1 690.1C1033.6 704.2 1036.1 725.9 1038.5 740.1C1041.0 754.4 1043.6 765.0 1046.1 777.5C1048.6 790.0 1051.1 804.8 1053.6 815.0C1055.3 821.7 1056.9 825.1 1058.6 832.4C1060.2 825.1 1061.9 822.4 1063.5 815.0C1066.0 803.7 1068.5 783.5 1071.1 765.0C1073.6 746.4 1076.1 721.1 1078.6 702.4C1081.0 684.1 1083.5 663.5 1085.9 652.6C1088.5 641.3 1091.0 630.7 1093.6 627.5C1096.9 623.3 1100.2 620.0 1103.6 620.0C1107.7 620.0 1111.9 626.3 1116.1 632.5C1119.4 637.5 1122.7 653.3 1126.1 660.1C1130.2 668.6 1134.4 679.9 1138.6 679.9C1141.9 679.9 1145.2 666.7 1148.6 652.6C1151.1 642.1 1153.5 614.9 1156.0 590.0C1157.7 573.4 1159.3 546.5 1161.0 530.1C1163.5 504.9 1166.1 488.7 1168.6 467.5C1171.1 447.0 1173.5 422.6 1176.0 404.9C1179.3 380.6 1182.7 361.3 1186.1 342.6C1190.2 319.5 1194.3 298.4 1198.5 280.0C1203.5 257.4 1208.6 235.1 1213.6 219.8C1219.4 202.2 1225.3 187.3 1231.1 177.5C1236.0 169.3 1240.9 161.1 1245.8 158.3C1250.5 155.5 1255.1 152.9 1259.8 152.9C1264.6 152.9 1269.4 155.7 1274.3 158.3C1279.0 160.8 1283.7 166.0 1288.5 172.4C1295.1 181.4 1301.7 199.9 1308.2 217.6C1314.1 233.5 1320.1 252.6 1326.0 274.9C1331.0 293.8 1336.0 318.5 1341.0 342.6C1345.1 362.1 1349.2 382.0 1353.3 404.9C1356.6 423.8 1360.0 446.6 1363.4 467.5C1366.7 488.4 1370.1 507.0 1373.5 530.1C1377.1 555.3 1380.8 582.3 1384.5 614.9C1386.9 636.6 1389.4 665.7 1391.8 690.1C1394.4 715.7 1397.0 736.1 1399.5 765.0C1402.1 793.1 1404.6 829.4 1407.1 865.0C1408.7 888.5 1410.4 921.4 1412.0 939.9C1413.7 958.8 1415.4 966.1 1417.1 984.9C1418.8 966.1 1420.5 957.8 1422.1 939.9C1424.6 913.9 1427.0 873.2 1429.5 839.9C1431.9 806.6 1434.4 764.0 1436.8 740.1C1440.2 707.2 1443.6 681.6 1447.0 664.9C1450.3 648.2 1453.7 635.4 1457.1 627.5C1460.4 619.5 1463.8 612.7 1467.2 610.1C1470.5 607.5 1473.9 605.0 1477.3 605.0C1480.6 605.0 1484.0 608.5 1487.4 612.5C1490.6 616.3 1493.9 630.6 1497.1 640.0C1500.4 649.7 1503.8 660.8 1507.1 670.0C1510.3 678.9 1513.5 689.5 1516.8 694.9C1520.1 700.5 1523.5 707.4 1526.9 707.4C1530.2 707.4 1533.6 698.0 1537.0 690.1C1540.3 682.1 1543.7 665.1 1547.1 652.6C1550.4 640.1 1553.8 624.3 1557.2 614.9C1560.6 605.5 1563.9 595.1 1567.3 592.4C1570.7 589.8 1574.0 587.6 1577.4 587.6C1580.6 587.6 1583.8 589.8 1587.0 592.4C1590.3 595.1 1593.5 604.9 1596.7 614.9C1599.4 623.5 1602.2 637.5 1605.0 652.6C1607.4 666.0 1609.9 688.3 1612.3 702.4C1615.7 721.7 1619.0 735.1 1622.4 752.1C1625.6 768.4 1628.8 791.5 1632.1 802.4C1634.7 811.3 1637.3 822.5 1639.9 822.5C1642.3 822.5 1644.8 818.8 1647.2 815.0C1649.7 811.1 1652.1 800.1 1654.6 790.1C1657.0 780.1 1659.5 765.5 1661.9 752.1C1664.0 740.4 1666.2 724.8 1668.3 714.9C1671.7 699.4 1675.1 684.1 1678.4 677.2C1682.0 670.1 1685.5 662.5 1689.0 662.5C1693.1 662.5 1697.3 673.3 1701.4 682.6C1706.0 692.8 1710.6 717.4 1715.2 733.4C1719.8 749.4 1724.4 769.8 1729.0 778.9C1732.0 784.9 1735.1 792.2 1738.2 792.2C1741.8 792.2 1745.5 776.4 1749.2 765.5C1753.2 753.7 1757.1 728.4 1761.1 720.0C1765.1 711.6 1769.1 702.6 1773.1 702.6C1776.7 702.6 1780.4 709.0 1784.1 714.7C1788.7 721.7 1793.3 738.1 1797.9 752.1C1802.5 766.2 1807.0 784.7 1811.6 800.3C1816.2 815.9 1820.8 835.6 1825.4 845.7C1829.7 855.2 1834.0 867.1 1838.3 867.1C1841.6 867.1 1845.0 855.6 1848.4 845.7C1852.1 835.0 1855.7 806.9 1859.4 792.2C1863.4 776.4 1867.4 759.1 1871.3 752.1C1875.3 745.1 1879.3 737.9 1883.3 737.9C1887.0 737.9 1890.6 745.0 1894.3 749.4C1897.4 753.2 1900.4 758.4 1903.5 762.8" stroke="#0000ff" stroke-width="4.2"/>
<path d="M250.0 725.4C251.8 725.4 253.7 725.4 255.5 725.4C265.9 725.4 276.3 682.6 286.7 682.6C292.9 682.6 299.0 683.6 305.1 685.2C311.2 686.9 317.4 703.1 323.5 712.0C329.6 720.9 335.7 738.7 341.9 738.7C350.1 738.7 358.4 736.7 366.7 733.4C373.7 730.6 380.7 708.3 387.8 693.3C395.8 676.2 403.7 646.4 411.7 634.4C419.0 623.4 426.4 610.3 433.7 610.3C439.8 610.3 446.0 614.3 452.1 618.4C461.3 624.4 470.5 657.5 479.7 661.2C487.3 664.2 495.0 666.5 502.6 666.5C508.7 666.5 514.9 655.2 521.0 645.1C524.8 638.8 528.6 627.3 532.5 615.7C535.4 606.8 538.3 595.2 541.2 583.6C542.9 577.0 544.5 567.1 546.2 562.2C550.0 550.8 553.9 542.0 557.7 538.1C562.6 533.2 567.5 528.8 572.4 528.8C576.2 528.8 580.0 530.5 583.8 532.8C587.8 535.2 591.8 552.9 595.9 560.3C600.3 568.5 604.7 569.3 609.2 580.9C611.0 585.7 612.9 603.0 614.7 611.4C620.2 636.5 625.7 658.8 631.2 671.9C637.3 686.4 643.5 704.0 649.6 704.0C657.3 704.0 664.9 698.8 672.6 693.3C681.7 686.6 690.9 659.3 700.1 645.1C707.8 633.3 715.4 614.1 723.1 613.0C730.4 612.0 737.8 612.5 745.1 611.4C748.5 610.9 751.9 603.0 755.2 599.6C759.8 595.0 764.4 587.6 769.0 587.6C772.4 587.6 775.8 589.4 779.1 591.6C781.9 593.4 784.6 600.7 787.4 605.0C790.8 610.2 794.1 612.8 797.5 620.0C801.5 628.4 805.5 647.8 809.4 666.5C812.8 682.3 816.2 707.5 819.5 725.4C824.1 749.8 828.7 773.6 833.3 792.2C837.9 810.9 842.5 825.3 847.1 840.4C851.7 855.5 856.3 870.4 860.9 883.2C865.5 896.0 870.1 912.3 874.7 918.0C879.6 924.1 884.5 930.0 889.4 930.0C893.6 930.0 897.9 926.9 902.2 923.3C906.8 919.4 911.4 904.7 916.0 891.2C919.1 882.2 922.1 869.6 925.2 856.4C928.2 843.3 931.3 829.1 934.4 811.0C936.8 796.4 939.3 770.6 941.7 757.5C945.4 737.8 949.1 724.1 952.7 712.0C955.6 702.4 958.6 692.2 961.5 687.9C969.3 676.3 977.1 671.7 984.9 666.5C995.3 659.6 1005.7 650.5 1016.1 650.5C1021.0 650.5 1025.9 658.6 1030.8 664.9C1038.5 674.7 1046.1 701.6 1053.8 710.1C1057.8 714.6 1061.7 720.0 1065.7 720.0C1070.0 720.0 1074.3 714.7 1078.6 710.1C1082.0 706.5 1085.3 699.4 1088.7 693.3C1093.9 683.8 1099.1 661.2 1104.3 661.2C1109.8 661.2 1115.3 679.7 1120.8 690.6C1126.0 700.9 1131.3 725.4 1136.5 725.4C1138.9 725.4 1141.4 717.7 1143.8 709.3C1146.0 702.0 1148.1 680.8 1150.2 661.2C1152.1 644.3 1153.9 617.2 1155.8 597.0C1157.9 573.4 1160.0 550.0 1162.2 530.1C1164.6 507.3 1167.1 489.1 1169.5 468.6C1172.0 448.1 1174.4 424.5 1176.9 407.0C1180.2 383.1 1183.6 363.9 1187.0 345.5C1191.0 323.8 1194.9 300.4 1198.9 286.7C1202.6 274.0 1206.3 265.5 1209.9 257.2C1213.6 249.0 1217.3 241.1 1221.0 235.8C1225.0 230.2 1228.9 225.2 1232.9 222.5C1237.2 219.5 1241.5 217.0 1245.8 216.0C1249.1 215.2 1252.5 214.4 1255.9 214.4C1260.2 214.4 1264.5 219.0 1268.7 222.5C1275.8 228.1 1282.8 236.6 1289.9 247.6C1293.5 253.3 1297.2 262.8 1300.9 270.6C1305.2 279.8 1309.5 287.5 1313.8 298.7C1316.2 305.1 1318.7 313.8 1321.1 321.4C1324.5 332.0 1327.8 339.8 1331.2 353.5C1332.7 359.8 1334.3 370.8 1335.8 377.6C1338.4 389.2 1341.0 395.7 1343.6 407.0C1345.3 414.4 1347.0 424.7 1348.7 432.4C1351.1 443.7 1353.6 452.3 1356.0 463.2C1357.7 470.7 1359.4 479.1 1361.1 487.3C1363.1 496.9 1365.0 506.6 1367.0 516.7C1370.1 532.2 1373.2 548.7 1376.2 564.9C1379.9 584.3 1383.6 603.2 1387.2 623.7C1390.9 644.2 1394.6 665.9 1398.3 687.9C1402.9 715.5 1407.5 745.9 1412.0 773.5C1416.6 801.1 1421.2 827.0 1425.8 853.8C1430.4 880.5 1435.0 906.8 1439.6 934.0C1443.6 957.7 1447.6 979.8 1451.5 1006.3C1455.5 1032.7 1459.5 1057.7 1463.5 1094.5C1466.2 1061.1 1469.0 1040.5 1471.8 1014.3C1474.8 985.2 1477.9 953.8 1480.9 928.7C1484.6 898.5 1488.3 866.2 1492.0 848.4C1495.9 829.2 1499.9 814.3 1503.9 805.6C1507.3 798.3 1510.6 789.6 1514.0 789.6C1517.7 789.6 1521.4 797.8 1525.0 805.6C1529.3 814.8 1533.6 841.5 1537.9 859.1C1542.5 878.0 1547.1 902.1 1551.7 915.3C1555.7 926.7 1559.6 935.1 1563.6 942.1C1566.1 946.3 1568.5 952.8 1571.0 952.8C1573.1 952.8 1575.2 949.0 1577.4 944.7C1580.5 938.6 1583.5 903.3 1586.6 885.9C1591.2 859.7 1595.8 834.0 1600.4 816.3C1605.0 798.7 1609.5 783.8 1614.1 773.5C1618.7 763.2 1623.3 753.6 1627.9 749.4C1634.0 744.0 1640.2 738.7 1646.3 738.7C1655.5 738.7 1664.7 745.3 1673.8 746.8C1681.5 748.0 1689.2 749.4 1696.8 749.4C1704.5 749.4 1712.1 744.1 1719.8 744.1C1725.9 744.1 1732.0 746.8 1738.2 749.4C1744.3 752.1 1750.4 758.7 1756.5 765.5C1761.4 770.9 1766.3 777.6 1771.2 786.9C1775.5 795.1 1779.8 810.9 1784.1 821.7C1788.7 833.2 1793.3 847.8 1797.9 853.8C1804.0 861.7 1810.1 869.8 1816.2 869.8C1820.8 869.8 1825.4 868.3 1830.0 867.1C1837.7 865.3 1845.3 859.1 1853.0 859.1C1859.4 859.1 1865.8 862.8 1872.3 867.1C1878.1 871.1 1883.9 885.6 1889.7 896.6C1894.3 905.3 1898.9 916.2 1903.5 926.0" stroke="#0000ff" stroke-width="4.2" stroke-dasharray="36 21"/>
<path d="M250.0 760.1C251.5 756.0 253.1 750.0 254.6 747.6C257.9 742.4 261.1 737.4 264.4 737.4C267.8 737.4 271.1 738.6 274.4 740.1C277.8 741.5 281.1 746.7 284.4 752.1C287.8 757.6 291.1 768.0 294.5 777.5C297.8 787.0 301.1 798.9 304.5 809.9C307.0 818.2 309.5 829.1 312.0 835.0C314.5 840.9 317.0 848.7 319.4 848.7C322.0 848.7 324.5 845.7 327.0 842.5C329.5 839.4 332.0 829.8 334.5 822.5C337.8 812.8 341.1 801.7 344.4 790.1C347.8 778.4 351.1 765.4 354.4 752.1C357.8 738.8 361.1 721.8 364.5 710.1C367.8 698.4 371.1 685.4 374.5 679.9C377.8 674.4 381.1 668.7 384.5 668.7C387.8 668.7 391.2 669.2 394.5 670.0C397.8 670.8 401.2 673.6 404.5 677.5C407.8 681.3 411.1 691.1 414.4 702.4C416.9 710.9 419.5 724.4 422.0 740.1C424.5 755.7 427.0 781.5 429.5 802.4C432.0 823.1 434.5 853.2 436.9 865.0C438.6 873.0 440.3 875.2 442.0 882.4C443.2 878.3 444.4 876.7 445.7 872.5C447.8 865.2 450.0 852.3 452.1 839.9C454.5 825.7 457.0 806.5 459.4 790.1C462.0 773.3 464.5 756.8 467.0 740.1C469.5 723.4 472.0 704.4 474.5 690.1C477.0 675.9 479.5 660.5 481.9 652.6C484.5 644.6 487.0 637.9 489.5 635.0C492.8 631.1 496.2 627.5 499.5 627.5C502.8 627.5 506.2 628.7 509.5 629.9C513.6 631.4 517.8 634.9 521.9 640.0C525.3 644.2 528.6 653.8 532.0 664.9C535.4 676.0 538.8 693.5 542.1 714.9C544.6 730.5 547.0 753.5 549.5 777.5C552.0 802.2 554.5 833.9 557.0 865.0C559.5 896.1 562.0 940.8 564.5 965.1C567.2 990.5 569.8 1000.0 572.4 1025.0C575.5 1005.2 578.6 997.5 581.6 977.6C584.1 961.8 586.5 937.8 589.0 915.0C591.4 892.3 593.9 864.9 596.3 839.9C598.8 814.9 601.2 784.4 603.7 765.0C606.2 744.5 608.8 727.6 611.4 714.9C613.9 702.6 616.4 688.5 618.9 685.0C623.0 679.2 627.1 675.1 631.2 675.1C635.5 675.1 639.8 678.9 644.1 682.6C648.2 686.1 652.3 692.9 656.4 702.4C659.6 709.9 662.9 723.6 666.1 740.1C669.5 757.2 672.9 786.4 676.2 815.0C679.6 843.5 683.0 879.1 686.3 915.0C688.9 942.1 691.4 972.9 694.0 1002.5C695.8 1023.9 697.6 1040.6 699.5 1067.8C701.8 1040.6 704.2 1020.2 706.5 1002.5C709.9 977.2 713.3 962.6 716.7 939.9C720.0 917.2 723.4 890.6 726.8 865.0C730.0 840.6 733.2 812.4 736.4 790.1C739.7 767.0 743.1 748.7 746.4 727.5C749.7 706.9 752.9 683.1 756.2 664.9C759.5 646.1 762.9 629.2 766.3 614.9C769.6 600.6 773.0 586.8 776.4 577.4C779.7 568.1 783.1 559.2 786.5 555.0C789.8 550.7 793.2 546.1 796.6 546.1C799.9 546.1 803.3 546.8 806.7 547.5C811.6 548.5 816.5 552.5 821.4 555.0C826.4 557.5 831.4 562.5 836.4 562.5C840.6 562.5 844.8 557.5 848.9 555.0C853.1 552.5 857.3 547.5 861.4 547.5C866.4 547.5 871.5 550.5 876.5 552.6C880.7 554.2 884.8 558.7 889.0 558.7C893.4 558.7 897.8 552.4 902.2 547.5C909.0 540.0 915.7 518.9 922.4 512.4C928.2 506.8 934.1 500.7 939.9 500.7C949.1 500.7 958.2 524.7 967.4 524.7C974.2 524.7 980.9 514.8 987.6 510.0C993.5 505.9 999.3 498.0 1005.1 498.0C1014.3 498.0 1023.5 516.2 1032.7 516.2C1039.3 516.2 1045.9 499.3 1052.5 492.6C1057.5 487.6 1062.5 479.3 1067.6 479.3C1070.9 479.3 1074.2 482.7 1077.5 487.3C1080.8 492.0 1084.2 530.5 1087.5 540.0C1090.0 547.1 1092.5 549.7 1094.9 555.0C1098.3 562.0 1101.6 569.5 1105.0 577.4C1108.3 585.3 1111.6 595.2 1115.0 602.6C1118.3 610.0 1121.6 622.4 1125.0 622.4C1127.5 622.4 1129.9 611.2 1132.4 605.0C1135.8 596.6 1139.1 585.7 1142.4 577.4C1145.8 569.2 1149.1 561.1 1152.4 555.0C1155.4 549.6 1158.3 541.3 1161.3 541.3C1163.3 541.3 1165.4 543.2 1167.4 545.1C1170.8 548.0 1174.1 557.5 1177.4 564.9C1180.8 572.2 1184.1 584.8 1187.4 590.0C1190.0 594.0 1192.5 598.8 1195.0 598.8C1196.6 598.8 1198.2 593.4 1199.8 590.0C1202.4 584.6 1204.9 578.4 1207.5 569.9C1209.1 564.5 1210.8 554.8 1212.4 548.8C1214.4 541.5 1216.5 537.2 1218.5 530.1C1226.0 503.7 1233.5 459.5 1241.0 430.0C1249.3 397.3 1257.7 367.0 1266.0 342.6C1274.3 318.3 1282.5 298.8 1290.8 280.0C1299.2 260.8 1307.6 239.9 1316.0 227.5C1321.0 220.1 1326.1 212.8 1331.2 209.6C1335.7 206.8 1340.2 203.7 1344.7 203.7C1348.8 203.7 1352.9 206.2 1356.9 208.5C1360.8 210.7 1364.6 215.5 1368.5 220.0C1376.0 228.9 1383.4 241.5 1390.9 255.1C1403.5 277.9 1416.0 307.6 1428.6 340.2C1433.2 352.1 1437.8 368.2 1442.4 380.3C1446.0 390.0 1449.7 396.8 1453.4 407.0C1456.1 414.7 1458.9 423.6 1461.6 433.8C1464.7 445.1 1467.8 458.0 1470.8 473.9C1473.0 485.0 1475.1 499.0 1477.3 514.0C1480.0 533.4 1482.8 560.0 1485.5 580.9C1488.3 601.8 1491.0 623.2 1493.8 639.8C1496.6 656.3 1499.3 671.1 1502.1 682.6C1505.7 697.9 1509.4 704.6 1513.1 720.3C1518.3 697.4 1523.5 688.5 1528.7 665.4C1533.6 643.8 1538.5 590.8 1543.4 578.2C1549.2 563.4 1555.0 550.4 1560.9 550.4C1567.6 550.4 1574.3 569.7 1581.1 590.3C1586.9 608.1 1592.7 657.4 1598.5 702.9C1602.8 736.4 1607.1 796.6 1611.4 827.0C1613.8 844.4 1616.3 852.0 1618.7 869.8C1621.2 857.6 1623.6 853.2 1626.1 840.4C1631.0 814.8 1635.9 754.3 1640.8 715.5C1645.8 675.4 1650.9 621.8 1655.9 602.9C1662.2 579.3 1668.5 556.8 1674.8 556.8C1681.8 556.8 1688.9 579.6 1695.9 602.9C1701.7 622.1 1707.5 672.6 1713.3 715.5C1718.2 751.6 1723.1 810.6 1728.0 840.4C1731.1 859.0 1734.2 866.6 1737.2 885.3C1740.3 866.6 1743.4 859.1 1746.4 840.4C1750.4 816.1 1754.4 768.7 1758.4 740.3C1762.6 709.9 1766.9 675.7 1771.2 661.2C1775.8 645.6 1780.4 629.1 1785.0 629.1C1790.2 629.1 1795.4 639.8 1800.6 653.1C1804.9 664.1 1809.2 706.2 1813.5 740.3C1817.8 774.5 1822.0 814.1 1826.3 864.5C1830.3 911.2 1834.3 968.2 1838.3 1042.4C1842.6 979.4 1846.9 938.8 1851.1 891.2C1855.1 847.0 1859.1 794.1 1863.1 765.5C1867.4 734.7 1871.7 707.6 1875.9 695.9C1881.8 680.2 1887.6 665.4 1893.4 665.4C1896.8 665.4 1900.1 667.9 1903.5 669.2" stroke="#00ffff" stroke-width="5.2"/>
<path d="M250.0 647.8C254.6 660.3 259.2 674.1 263.8 685.2C269.9 700.2 276.0 714.6 282.2 725.4C288.9 737.2 295.6 754.8 302.4 754.8C309.4 754.8 316.4 729.4 323.5 714.7C329.6 701.8 335.7 678.6 341.9 671.9C349.5 663.5 357.2 659.4 364.8 655.8C372.5 652.3 380.1 647.8 387.8 647.8C397.0 647.8 406.2 650.1 415.4 655.8C418.4 657.7 421.5 675.3 424.5 685.2C429.1 700.2 433.7 730.7 438.3 730.7C442.9 730.7 447.5 727.0 452.1 722.7C458.2 717.0 464.3 691.8 470.5 671.9C475.1 656.9 479.7 636.7 484.2 618.4C487.3 606.2 490.4 590.0 493.4 580.9C497.4 569.0 501.4 561.7 505.4 553.4C508.4 546.9 511.5 535.4 514.6 535.4C517.6 535.4 520.7 536.6 523.7 538.1C528.3 540.4 532.9 558.3 537.5 568.9C543.3 582.3 549.2 599.9 555.0 610.3C560.5 620.3 566.0 628.0 571.5 634.4C576.1 639.7 580.7 647.8 585.3 647.8C589.9 647.8 594.5 646.6 599.1 645.1C603.7 643.6 608.3 636.3 612.9 629.1C616.8 622.8 620.8 612.6 624.8 601.2C627.7 593.0 630.6 581.7 633.5 570.2C635.2 563.6 636.9 552.2 638.6 548.3C642.9 538.4 647.1 534.6 651.4 530.1C654.8 526.6 658.2 521.5 661.5 521.5C665.2 521.5 668.9 527.3 672.6 531.2C679.6 538.5 686.6 548.5 693.7 560.3C697.1 566.0 700.4 573.8 703.8 580.9C708.4 590.6 713.0 607.8 717.6 611.4C722.5 615.3 727.4 618.4 732.3 618.4C738.4 618.4 744.5 618.4 750.6 618.4C756.8 618.4 762.9 611.1 769.0 605.0C775.1 598.9 781.3 585.3 787.4 575.6C794.9 563.6 802.4 546.6 809.9 539.7C818.9 531.4 828.0 522.6 837.0 522.6C845.0 522.6 852.9 538.2 860.9 548.8C867.7 558.0 874.6 573.7 881.5 583.6C888.1 593.2 894.7 600.5 901.3 608.7C906.3 615.1 911.4 625.5 916.5 627.5C927.3 631.8 938.2 634.4 949.1 634.4C953.3 634.4 957.6 633.9 961.9 633.1C965.4 632.4 969.0 627.4 972.5 622.4C975.7 617.8 978.9 608.3 982.1 599.6C984.7 592.7 987.3 580.2 989.9 575.6C997.4 562.1 1004.9 556.6 1012.4 549.9C1017.3 545.5 1022.2 538.9 1027.1 538.9C1034.5 538.9 1041.8 539.2 1049.2 539.5C1058.4 539.8 1067.6 540.9 1076.8 543.5C1081.6 544.8 1086.5 553.4 1091.4 559.5C1095.1 564.1 1098.8 569.5 1102.5 575.6C1106.1 581.7 1109.8 590.9 1113.5 597.0C1117.2 603.1 1120.8 613.0 1124.5 613.0C1128.5 613.0 1132.5 599.7 1136.5 591.6C1141.1 582.3 1145.6 564.9 1150.2 559.5C1154.8 554.2 1159.4 548.8 1164.0 548.8C1168.6 548.8 1173.2 558.2 1177.8 564.9C1182.4 571.6 1187.0 582.0 1191.6 591.6C1194.3 597.4 1197.1 601.8 1199.8 610.3C1202.3 617.9 1204.7 631.8 1207.2 645.1C1209.0 655.1 1210.9 665.4 1212.7 679.9C1213.9 672.1 1215.2 669.9 1216.4 661.2C1217.6 652.5 1218.8 642.4 1220.1 618.4C1220.7 606.3 1221.3 546.2 1221.9 538.1C1225.0 497.6 1228.0 497.3 1231.1 480.1C1235.2 456.8 1239.3 434.1 1243.5 417.7C1246.0 407.8 1248.5 403.7 1251.0 392.6C1252.6 385.4 1254.3 369.8 1255.9 362.6C1259.2 347.7 1262.6 339.8 1266.0 329.5C1268.4 321.9 1270.9 312.1 1273.3 308.1C1280.1 297.1 1286.8 290.4 1293.5 287.5C1302.7 283.4 1311.9 282.6 1321.1 280.0C1328.4 277.9 1335.8 273.3 1343.1 273.3C1347.7 273.3 1352.3 274.6 1356.9 276.0C1362.1 277.5 1367.3 280.8 1372.5 285.1C1377.1 288.8 1381.7 296.3 1386.3 303.8C1390.9 311.3 1395.5 321.2 1400.1 332.1C1402.9 338.7 1405.6 348.0 1408.4 354.9C1413.0 366.3 1417.6 374.2 1422.1 385.6C1424.8 392.1 1427.4 402.3 1430.0 407.0C1437.0 420.0 1444.0 425.0 1451.1 433.8C1456.1 440.1 1461.2 445.2 1466.2 452.5C1471.4 460.1 1476.7 468.4 1481.9 480.1C1484.5 486.0 1487.1 494.4 1489.8 502.5C1492.2 510.1 1494.7 518.1 1497.1 527.4C1499.4 536.0 1501.6 545.4 1503.9 556.8C1505.7 566.1 1507.6 580.0 1509.4 590.0C1510.9 598.4 1512.5 605.8 1514.0 613.0C1516.5 624.5 1518.9 629.0 1521.4 645.1C1523.2 657.2 1525.0 687.7 1526.9 712.0C1528.7 736.3 1530.5 776.5 1532.4 792.2C1535.1 815.8 1537.9 840.4 1540.6 840.4C1543.4 840.4 1546.2 833.9 1548.9 829.7C1552.3 824.6 1555.7 818.9 1559.0 811.0C1563.6 800.2 1568.2 779.7 1572.8 765.5C1577.4 751.3 1582.0 735.2 1586.6 725.4C1589.6 718.8 1592.7 713.7 1595.8 709.3C1600.4 702.8 1605.0 693.3 1609.5 693.3C1612.6 693.3 1615.7 694.6 1618.7 695.9C1624.9 698.7 1631.0 711.5 1637.1 720.0C1641.4 726.0 1645.7 738.7 1650.0 738.7C1656.4 738.7 1662.8 721.5 1669.3 720.0C1676.0 718.4 1682.7 718.7 1689.5 717.3C1696.5 716.0 1703.5 711.1 1710.6 709.3C1717.6 707.5 1724.7 706.9 1731.7 705.3C1740.0 703.5 1748.3 701.4 1756.5 698.6C1762.6 696.6 1768.8 690.6 1774.9 690.6C1781.0 690.6 1787.1 691.7 1793.3 693.3C1799.4 694.8 1805.5 702.4 1811.6 709.3C1817.8 716.2 1823.9 727.4 1830.0 738.7C1836.1 750.1 1842.3 763.0 1848.4 778.9C1854.5 794.8 1860.6 825.1 1866.8 837.7C1871.3 847.2 1875.9 859.1 1880.5 859.1C1885.1 859.1 1889.7 843.2 1894.3 832.4C1897.4 825.1 1900.4 814.5 1903.5 805.6" stroke="#00ffff" stroke-width="5.2" stroke-dasharray="36 21"/>
<path d="M250.0 812.8C254.9 826.2 259.8 840.6 264.7 853.0C269.0 863.8 273.3 879.2 277.6 883.2C281.7 887.0 285.8 890.4 290.0 890.4C295.0 890.4 300.1 869.9 305.1 853.0C309.3 839.1 313.4 808.9 317.5 790.4C321.7 771.8 325.8 753.8 329.9 740.3C334.2 726.4 338.5 710.8 342.8 705.3C347.7 699.1 352.6 693.3 357.5 693.3C362.4 693.3 367.3 701.9 372.2 710.4C376.5 717.9 380.7 737.9 385.0 752.9C388.4 764.7 391.8 781.7 395.1 790.4C398.5 799.1 401.9 810.4 405.2 810.4C408.6 810.4 412.0 799.2 415.4 790.4C418.6 781.9 421.8 765.7 425.0 752.9C430.0 732.8 435.1 708.1 440.2 690.6C444.3 676.3 448.4 658.4 452.6 653.1C455.8 649.0 459.0 645.1 462.2 645.1C466.5 645.1 470.8 652.9 475.1 660.4C479.3 667.8 483.6 685.5 487.9 702.9C491.9 719.1 495.9 742.9 499.9 765.5C503.2 784.6 506.6 809.2 510.0 827.8C512.1 839.7 514.3 846.9 516.4 860.5C518.5 846.9 520.7 839.7 522.8 827.8C526.2 809.2 529.6 784.6 532.9 765.5C536.9 742.9 540.9 713.4 544.9 702.9C549.2 691.6 553.4 683.0 557.7 680.4C561.1 678.4 564.5 676.7 567.8 676.7C571.8 676.7 575.8 680.6 579.8 685.2C583.1 689.2 586.5 704.1 589.9 715.5C594.2 729.9 598.5 752.6 602.7 765.5C606.7 777.5 610.7 794.9 614.7 794.9C619.9 794.9 625.1 768.6 630.3 752.9C635.2 738.2 640.1 711.1 645.0 702.9C649.9 694.7 654.8 686.6 659.7 686.6C664.9 686.6 670.1 693.9 675.3 700.5C679.3 705.5 683.3 719.2 687.3 725.4C690.6 730.6 694.0 737.9 697.4 737.9C700.7 737.9 704.1 734.6 707.5 730.5C710.2 727.1 713.0 714.5 715.7 704.0C720.0 687.5 724.3 653.2 728.6 640.0C732.7 627.4 736.9 616.7 741.0 612.5C746.8 606.5 752.7 601.2 758.5 601.2C763.6 601.2 768.6 606.8 773.6 612.5C777.7 617.2 781.9 629.2 786.0 640.0C790.1 650.9 794.3 665.2 798.4 679.9C801.8 691.9 805.1 706.7 808.5 720.0C811.9 733.3 815.3 749.1 818.6 759.9C821.1 767.7 823.5 771.6 826.0 779.9C828.4 773.7 830.9 772.9 833.3 765.0C835.9 756.6 838.5 725.4 841.0 702.4C843.5 679.9 846.1 650.3 848.6 627.5C851.0 604.9 853.5 586.3 856.0 564.9C857.3 553.5 858.6 540.3 860.0 530.1C865.0 491.0 870.0 459.7 875.0 430.0C880.8 395.6 886.7 367.8 892.5 337.5C899.2 302.7 905.8 261.5 912.5 235.0C920.0 205.2 927.5 179.8 935.0 162.5C940.9 148.9 946.8 135.7 952.7 130.2C958.9 124.4 965.1 118.7 971.3 118.7C977.1 118.7 982.8 123.9 988.6 129.4C994.0 134.6 999.5 148.0 1005.0 162.5C1011.7 180.2 1018.4 208.7 1025.0 242.5C1030.0 267.8 1035.0 308.4 1040.0 342.6C1044.2 371.1 1048.3 395.5 1052.5 430.0C1055.8 457.7 1059.2 496.8 1062.5 530.1C1063.7 541.7 1064.8 553.3 1066.0 564.9C1067.7 581.6 1069.4 592.5 1071.1 614.9C1072.7 636.9 1074.4 681.9 1076.0 714.9C1077.7 748.6 1079.4 787.7 1081.1 815.0C1083.5 855.2 1086.0 889.6 1088.5 915.0C1090.6 936.4 1092.7 945.6 1094.8 967.5C1096.9 945.6 1099.0 934.2 1101.1 915.0C1103.6 892.5 1106.1 856.4 1108.5 839.9C1111.0 823.1 1113.6 809.9 1116.1 802.4C1118.6 794.9 1121.1 786.4 1123.6 786.4C1126.5 786.4 1129.4 794.3 1132.3 802.4C1135.2 810.5 1138.1 832.6 1141.1 852.4C1143.6 869.5 1146.1 892.2 1148.6 915.0C1151.1 937.6 1153.5 966.1 1156.0 989.9C1157.3 1002.0 1158.5 1010.4 1159.8 1025.0C1161.9 1005.2 1164.0 996.6 1166.0 977.6C1168.5 954.7 1171.1 921.2 1173.6 889.9C1176.1 859.0 1178.5 818.5 1181.0 790.1C1183.5 761.4 1186.0 733.6 1188.5 714.9C1189.7 706.3 1190.9 700.9 1192.0 693.3C1194.5 676.8 1197.1 652.5 1199.6 640.0C1202.9 623.5 1206.2 610.3 1209.6 602.6C1213.7 593.1 1217.8 585.1 1221.9 582.5C1228.6 578.2 1235.4 575.0 1242.1 575.0C1247.9 575.0 1253.7 578.0 1259.6 581.2C1263.7 583.5 1267.9 588.6 1272.0 595.1C1276.1 601.5 1280.3 615.2 1284.4 627.5C1288.6 640.3 1292.9 656.4 1297.2 672.4C1301.2 687.2 1305.2 706.0 1309.2 720.0C1312.5 731.9 1315.9 745.2 1319.3 752.1C1322.6 759.0 1326.0 766.7 1329.4 767.4C1333.7 768.2 1337.9 768.7 1342.2 768.7C1347.1 768.7 1352.0 766.3 1356.9 766.3C1360.3 766.3 1363.7 768.2 1367.0 770.0C1370.4 771.9 1373.8 776.9 1377.1 779.9C1382.0 784.4 1386.9 788.0 1391.8 792.5C1396.1 796.4 1400.4 800.1 1404.7 805.1C1408.8 809.9 1413.0 815.2 1417.1 822.5C1420.3 828.2 1423.5 837.1 1426.7 844.9C1429.3 851.3 1431.9 861.2 1434.5 865.0C1437.9 869.9 1441.2 874.9 1444.6 874.9C1447.8 874.9 1451.1 870.2 1454.3 865.0C1457.7 859.7 1461.0 840.0 1464.4 827.6C1467.8 815.1 1471.1 800.1 1474.5 790.1C1477.9 780.1 1481.2 769.1 1484.6 765.0C1488.8 759.9 1492.9 755.1 1497.1 755.1C1500.4 755.1 1503.8 760.2 1507.1 765.0C1510.3 769.6 1513.5 780.3 1516.8 790.1C1520.1 800.4 1523.5 815.1 1526.9 827.6C1530.2 840.0 1533.6 855.0 1537.0 865.0C1540.3 875.0 1543.7 883.0 1547.1 889.9C1550.4 896.8 1553.8 904.5 1557.2 907.5C1559.9 910.0 1562.7 912.6 1565.5 912.6C1569.4 912.6 1573.4 906.7 1577.4 900.1C1580.6 894.7 1583.8 878.7 1587.0 865.0C1590.3 851.3 1593.5 831.3 1596.7 815.0C1600.1 797.9 1603.4 781.6 1606.8 765.0C1610.2 748.3 1613.5 728.7 1616.9 714.9C1620.3 701.2 1623.6 687.6 1627.0 679.9C1630.4 672.1 1633.7 665.5 1637.1 662.5C1640.2 659.8 1643.2 656.9 1646.3 656.9C1650.0 656.9 1653.6 659.4 1657.3 662.5C1661.2 665.7 1665.1 678.7 1669.0 690.1C1672.3 699.8 1675.7 714.2 1679.0 727.5C1682.3 740.8 1685.7 756.3 1689.0 770.0C1692.3 783.8 1695.7 800.2 1699.0 809.9C1701.5 817.2 1704.0 825.0 1706.5 827.6C1709.0 830.1 1711.5 832.4 1714.0 832.4C1716.5 832.4 1719.0 827.5 1721.5 822.5C1724.0 817.5 1726.5 800.1 1729.0 790.1C1732.3 776.5 1735.7 762.8 1739.1 752.1C1742.4 741.7 1745.7 732.2 1749.0 725.1C1752.3 718.0 1755.7 711.0 1759.0 707.4C1762.3 703.9 1765.7 700.9 1769.0 700.0C1771.5 699.3 1774.0 698.6 1776.5 698.6C1779.9 698.6 1783.2 701.6 1786.6 705.0C1789.9 708.4 1793.2 720.2 1796.6 729.9C1799.9 739.6 1803.2 752.9 1806.5 765.0C1809.8 777.1 1813.2 789.9 1816.5 802.4C1819.8 814.9 1823.2 830.3 1826.5 839.9C1829.0 847.0 1831.5 855.2 1834.1 857.5C1836.1 859.5 1838.2 861.3 1840.3 861.3C1843.2 861.3 1846.1 854.0 1849.0 847.6C1852.4 840.3 1855.7 821.5 1859.0 809.9C1862.4 798.3 1865.7 785.8 1869.1 777.5C1872.4 769.3 1875.7 760.2 1879.1 757.5C1882.4 754.8 1885.7 752.4 1889.1 752.4C1892.4 752.4 1895.6 754.7 1898.9 757.5C1900.4 758.8 1902.0 762.5 1903.5 765.0" stroke="#000000" stroke-width="4.0"/>
<path d="M250.0 819.0C256.1 832.4 262.2 843.8 268.4 859.1C274.5 874.4 280.6 898.5 286.7 912.6C291.3 923.2 295.9 928.2 300.5 939.4C305.1 928.2 309.7 922.8 314.3 912.6C320.4 899.1 326.6 877.1 332.7 864.5C340.6 848.0 348.6 839.3 356.6 824.3C367.0 804.8 377.4 773.1 387.8 757.5C397.0 743.7 406.2 725.4 415.4 725.4C421.5 725.4 427.6 737.6 433.7 746.8C440.2 756.4 446.6 772.8 453.0 786.9C458.8 799.6 464.6 827.0 470.5 827.0C473.8 827.0 477.2 822.3 480.6 819.0C489.5 810.2 498.3 792.9 507.2 778.9C516.4 764.4 525.6 743.1 534.8 733.4C544.0 723.7 553.1 712.0 562.3 712.0C570.0 712.0 577.6 723.0 585.3 733.4C592.0 742.5 598.8 758.8 605.5 781.5C611.0 800.1 616.5 838.9 622.0 872.5C626.6 900.5 631.2 927.1 635.8 966.1C640.1 943.8 644.4 928.3 648.7 912.6C654.2 892.5 659.7 871.8 665.2 859.1C670.7 846.5 676.2 835.6 681.7 829.7C686.3 824.8 690.9 819.0 695.5 819.0C700.1 819.0 704.7 828.2 709.3 837.7C713.9 847.3 718.5 876.7 723.1 899.2C727.7 921.8 732.3 953.2 736.9 974.2C740.2 989.5 743.6 997.6 747.0 1014.3C750.9 1008.7 754.9 1006.2 758.9 1000.9C761.7 997.2 764.4 992.9 767.2 987.5C772.1 978.0 777.0 964.1 781.9 950.1C787.5 933.8 793.2 919.5 798.9 893.9C801.8 880.7 804.7 855.5 807.6 837.7C810.7 819.0 813.7 805.6 816.8 784.2C819.1 768.2 821.4 746.7 823.7 725.4C825.4 709.7 827.0 687.1 828.7 674.5C832.4 647.2 836.1 634.0 839.7 613.0C843.0 594.7 846.2 576.6 849.4 556.8C852.6 537.1 855.8 510.2 859.0 494.0C865.8 460.1 872.5 442.6 879.2 415.1C885.7 388.7 892.1 356.2 898.5 332.1C903.7 312.6 909.0 295.9 914.2 280.0C920.3 261.3 926.4 243.0 932.5 228.6C938.3 214.9 944.2 201.0 950.0 193.0C955.8 185.1 961.6 175.1 967.4 175.1C972.3 175.1 977.2 178.7 982.1 182.3C988.1 186.7 994.1 198.4 1000.0 211.0C1005.9 223.1 1011.7 242.5 1017.5 263.9C1021.7 279.4 1025.9 298.8 1030.1 321.4C1032.9 336.8 1035.8 358.0 1038.6 376.3C1041.5 395.0 1044.4 412.4 1047.4 432.4C1050.0 450.4 1052.6 468.1 1055.2 490.0C1057.5 509.3 1059.8 527.0 1062.1 556.8C1063.0 568.8 1063.9 594.0 1064.8 605.0C1067.3 634.3 1069.7 651.4 1072.2 666.5C1075.5 687.3 1078.9 704.5 1082.3 714.7C1085.9 725.7 1089.6 734.7 1093.3 738.7C1097.0 742.8 1100.6 746.8 1104.3 746.8C1108.6 746.8 1112.9 745.5 1117.2 744.1C1123.6 742.0 1130.0 732.8 1136.5 728.0C1144.7 722.0 1153.0 712.0 1161.3 712.0C1166.8 712.0 1172.3 718.3 1177.8 722.7C1182.5 726.5 1187.3 732.3 1192.0 737.4C1199.5 745.5 1207.0 757.4 1214.5 762.8C1221.3 767.6 1228.0 768.7 1234.8 773.5C1242.1 778.7 1249.4 788.6 1256.8 797.6C1261.1 802.8 1265.4 805.3 1269.7 815.0C1272.1 820.5 1274.6 837.8 1277.0 852.4C1278.8 863.4 1280.7 878.8 1282.5 891.2C1285.4 910.8 1288.3 935.6 1291.2 947.4C1295.3 963.7 1299.3 976.4 1303.3 982.2C1308.0 989.0 1312.7 995.6 1317.4 995.6C1321.4 995.6 1325.4 991.2 1329.4 987.5C1333.7 983.6 1337.9 976.9 1342.2 968.8C1346.2 961.3 1350.2 951.1 1354.2 936.7C1356.6 927.9 1359.1 913.3 1361.5 899.2C1364.4 882.6 1367.3 860.5 1370.2 841.7C1373.2 823.0 1376.1 803.7 1379.0 786.9C1382.5 766.6 1386.0 748.4 1389.5 730.7C1393.4 711.5 1397.2 691.5 1401.0 676.1C1406.4 654.6 1411.7 633.6 1417.1 621.0C1422.9 607.4 1428.7 593.6 1434.5 590.3C1439.6 587.4 1444.7 584.9 1449.7 584.9C1454.6 584.9 1459.5 587.1 1464.4 590.0C1468.7 592.6 1473.0 607.5 1477.3 615.7C1482.2 625.0 1487.1 630.8 1492.0 642.4C1495.6 651.2 1499.3 668.1 1503.0 678.6C1506.4 688.1 1509.7 698.5 1513.1 704.0C1516.2 708.9 1519.2 714.9 1522.3 714.9C1525.3 714.9 1528.4 714.2 1531.5 713.3C1534.2 712.5 1537.0 710.0 1539.7 707.4C1544.6 702.9 1549.5 693.7 1554.4 685.2C1560.6 674.7 1566.7 657.5 1572.8 647.8C1578.3 639.1 1583.8 629.4 1589.3 626.4C1594.5 623.6 1599.7 621.0 1605.0 621.0C1612.6 621.0 1620.3 624.4 1627.9 626.4C1634.0 628.0 1640.2 630.7 1646.3 631.7C1653.9 633.0 1661.6 633.1 1669.3 634.4C1676.6 635.7 1684.0 637.4 1691.3 642.4C1696.2 645.8 1701.1 666.8 1706.0 685.2C1710.6 702.5 1715.2 739.6 1719.8 757.5C1724.4 775.4 1729.0 800.3 1733.6 800.3C1738.2 800.3 1742.7 785.6 1747.3 773.5C1751.9 761.4 1756.5 735.8 1761.1 717.3C1764.5 703.8 1767.9 687.6 1771.2 677.2C1775.5 664.0 1779.8 651.4 1784.1 645.1C1787.4 640.2 1790.8 634.4 1794.2 634.4C1798.5 634.4 1802.8 640.7 1807.0 645.1C1811.6 649.8 1816.2 659.1 1820.8 663.8C1826.3 669.5 1831.8 674.6 1837.4 677.2C1844.1 680.4 1850.8 682.6 1857.6 683.9C1868.3 685.9 1879.0 686.2 1889.7 687.9C1894.3 688.6 1898.9 689.7 1903.5 690.6" stroke="#000000" stroke-width="4.0" stroke-dasharray="36 21"/>
<path d="M250.0 762.8C253.1 758.4 256.1 753.2 259.2 749.4C262.9 745.0 266.5 737.9 270.2 737.9C274.2 737.9 278.2 745.1 282.2 752.1C286.1 759.1 290.1 776.4 294.1 792.2C297.8 806.9 301.4 835.0 305.1 845.7C308.5 855.6 311.9 867.1 315.2 867.1C319.5 867.1 323.8 855.2 328.1 845.7C332.7 835.6 337.3 815.9 341.9 800.3C346.5 784.7 351.0 766.2 355.6 752.1C360.2 738.1 364.8 721.7 369.4 714.7C373.1 709.0 376.8 702.6 380.4 702.6C384.4 702.6 388.4 711.6 392.4 720.0C396.4 728.4 400.3 753.7 404.3 765.5C408.0 776.4 411.7 792.2 415.4 792.2C418.4 792.2 421.5 784.9 424.5 778.9C429.1 769.8 433.7 749.4 438.3 733.4C442.9 717.4 447.5 692.8 452.1 682.6C456.2 673.3 460.4 662.5 464.5 662.5C468.0 662.5 471.5 670.1 475.1 677.2C478.4 684.1 481.8 699.4 485.2 714.9C487.3 724.8 489.5 740.4 491.6 752.1C494.0 765.5 496.5 780.1 498.9 790.1C501.4 800.1 503.8 811.1 506.3 815.0C508.7 818.8 511.2 822.5 513.6 822.5C516.2 822.5 518.8 811.3 521.4 802.4C524.7 791.5 527.9 768.4 531.1 752.1C534.5 735.1 537.8 721.7 541.2 702.4C543.6 688.3 546.1 666.0 548.5 652.6C551.3 637.5 554.1 623.5 556.8 614.9C560.0 604.9 563.2 595.1 566.5 592.4C569.7 589.8 572.9 587.6 576.1 587.6C579.5 587.6 582.8 589.8 586.2 592.4C589.6 595.1 592.9 605.5 596.3 614.9C599.7 624.3 603.1 640.1 606.4 652.6C609.8 665.1 613.2 682.1 616.5 690.1C619.9 698.0 623.3 707.4 626.6 707.4C630.0 707.4 633.4 700.5 636.7 694.9C640.0 689.5 643.2 678.9 646.4 670.0C649.7 660.8 653.1 649.7 656.4 640.0C659.6 630.6 662.9 616.3 666.1 612.5C669.5 608.5 672.9 605.0 676.2 605.0C679.6 605.0 683.0 607.5 686.3 610.1C689.7 612.7 693.1 619.5 696.4 627.5C699.8 635.4 703.2 648.2 706.5 664.9C709.9 681.6 713.3 707.2 716.7 740.1C719.1 764.0 721.6 806.6 724.0 839.9C726.5 873.2 728.9 913.9 731.4 939.9C733.0 957.8 734.7 966.1 736.4 984.9C738.1 966.1 739.8 958.8 741.5 939.9C743.1 921.4 744.8 888.5 746.4 865.0C748.9 829.4 751.4 793.1 754.0 765.0C756.5 736.1 759.1 715.7 761.7 690.1C764.1 665.7 766.6 636.6 769.0 614.9C772.7 582.3 776.4 555.3 780.0 530.1C783.4 507.0 786.8 488.4 790.1 467.5C793.5 446.6 796.9 423.8 800.2 404.9C804.3 382.0 808.4 362.1 812.5 342.6C817.5 318.5 822.5 293.8 827.5 274.9C833.4 252.6 839.4 233.5 845.3 217.6C851.8 199.9 858.4 181.4 865.0 172.4C869.8 166.0 874.5 160.8 879.2 158.3C884.1 155.7 888.9 152.9 893.7 152.9C898.4 152.9 903.0 155.5 907.7 158.3C912.6 161.1 917.5 169.3 922.4 177.5C928.2 187.3 934.1 202.2 939.9 219.8C944.9 235.1 950.0 257.4 955.0 280.0C959.2 298.4 963.3 319.5 967.4 342.6C970.8 361.3 974.2 380.6 977.5 404.9C980.0 422.6 982.4 447.0 984.9 467.5C987.4 488.7 990.0 504.9 992.5 530.1C994.2 546.5 995.8 573.4 997.5 590.0C1000.0 614.9 1002.4 642.1 1004.9 652.6C1008.3 666.7 1011.6 679.9 1014.9 679.9C1019.1 679.9 1023.3 668.6 1027.4 660.1C1030.8 653.3 1034.1 637.5 1037.4 632.5C1041.6 626.3 1045.8 620.0 1049.9 620.0C1053.3 620.0 1056.6 623.3 1059.9 627.5C1062.5 630.7 1065.0 641.3 1067.6 652.6C1070.0 663.5 1072.5 684.1 1074.9 702.4C1077.4 721.1 1079.9 746.4 1082.4 765.0C1085.0 783.5 1087.5 803.7 1090.0 815.0C1091.6 822.4 1093.3 825.1 1094.9 832.4C1096.6 825.1 1098.2 821.7 1099.9 815.0C1102.4 804.8 1104.9 790.0 1107.4 777.5C1109.9 765.0 1112.5 754.4 1115.0 740.1C1117.4 725.9 1119.9 704.2 1122.4 690.1C1124.9 675.7 1127.4 664.3 1129.9 652.6C1132.4 641.0 1134.9 631.2 1137.4 620.0C1139.9 608.6 1142.4 594.6 1144.9 584.9C1147.4 575.2 1149.9 563.6 1152.4 560.0C1155.8 555.3 1159.1 551.6 1162.5 551.2C1166.7 550.7 1170.8 550.6 1175.0 550.4C1180.9 550.2 1186.7 549.9 1192.5 549.9C1197.4 549.9 1202.3 550.4 1207.2 551.2C1210.6 551.8 1213.9 556.1 1217.3 560.0C1220.7 564.0 1224.0 570.6 1227.4 577.4C1230.8 584.3 1234.1 594.9 1237.5 602.6C1240.8 610.2 1244.1 621.6 1247.4 623.7C1250.8 625.8 1254.1 627.5 1257.4 627.5C1260.8 627.5 1264.1 624.1 1267.5 622.4C1271.6 620.3 1275.7 616.2 1279.8 616.2C1283.1 616.2 1286.5 619.3 1289.9 622.4C1293.2 625.4 1296.6 633.1 1300.0 640.0C1303.3 646.9 1306.7 656.2 1310.1 664.9C1312.5 671.3 1315.0 680.7 1317.4 685.0C1320.8 690.8 1324.2 697.5 1327.5 697.5C1330.8 697.5 1334.1 696.6 1337.5 696.2C1342.4 695.7 1347.4 694.9 1352.3 694.9C1356.6 694.9 1360.9 702.5 1365.2 707.4C1369.3 712.2 1373.4 721.3 1377.5 725.1C1381.7 729.0 1385.8 733.7 1390.0 733.7C1394.2 733.7 1398.3 728.8 1402.5 725.1C1406.6 721.5 1410.7 712.2 1414.8 710.1C1419.1 708.0 1423.4 706.1 1427.7 706.1C1430.9 706.1 1434.2 709.0 1437.5 712.0C1441.9 716.0 1446.2 729.5 1450.6 740.3C1454.9 751.0 1459.2 763.0 1463.5 777.8C1468.4 794.7 1473.3 813.3 1478.2 840.4C1482.5 864.1 1486.8 904.1 1491.0 940.4C1493.5 961.2 1495.9 1007.9 1498.4 1007.9C1501.5 1007.9 1504.5 1007.9 1507.6 1007.9C1509.4 1007.9 1511.3 958.5 1513.1 940.4C1517.4 898.4 1521.7 871.5 1526.0 840.4C1530.2 809.3 1534.5 778.2 1538.8 752.9C1542.8 729.4 1546.8 704.1 1550.8 690.6C1555.8 673.4 1560.9 658.5 1565.9 653.1C1572.5 646.2 1579.1 640.3 1585.7 640.3C1591.5 640.3 1597.3 643.5 1603.1 647.8C1608.9 652.0 1614.7 671.6 1620.6 690.6C1625.8 707.6 1631.0 735.0 1636.2 765.5C1640.2 788.8 1644.1 830.2 1648.1 853.0C1650.7 867.8 1653.3 874.8 1655.9 890.4C1658.5 874.8 1661.1 867.8 1663.7 853.0C1667.7 830.2 1671.7 793.6 1675.7 765.5C1680.0 735.2 1684.3 699.4 1688.5 677.8C1692.7 656.9 1696.8 635.7 1700.9 628.0C1705.1 620.3 1709.2 613.0 1713.3 613.0C1718.2 613.0 1723.1 617.7 1728.0 622.9C1733.3 628.5 1738.5 646.9 1743.7 665.4C1748.6 682.9 1753.5 715.8 1758.4 740.3C1763.4 765.7 1768.5 796.4 1773.5 815.3C1777.3 829.5 1781.2 835.7 1785.0 850.3C1787.0 846.2 1789.0 844.5 1791.0 840.4C1795.1 831.8 1799.2 817.0 1803.4 802.9C1807.7 788.4 1811.9 768.9 1816.2 752.9C1820.2 738.1 1824.2 716.1 1828.2 710.4C1834.9 700.7 1841.6 693.3 1848.4 693.3C1855.1 693.3 1861.9 702.2 1868.6 712.8C1873.5 720.5 1878.4 743.0 1883.3 765.5C1886.7 780.9 1890.0 806.1 1893.4 827.0C1896.8 848.0 1900.1 869.8 1903.5 891.2" stroke="#872491" stroke-width="3.8"/>
<path d="M250.0 926.0C254.6 916.2 259.2 905.3 263.8 896.6C269.6 885.6 275.4 871.1 281.2 867.1C287.7 862.8 294.1 859.1 300.5 859.1C308.2 859.1 315.8 865.3 323.5 867.1C328.1 868.3 332.7 869.8 337.3 869.8C343.4 869.8 349.5 861.7 355.6 853.8C360.2 847.8 364.8 833.2 369.4 821.7C373.7 810.9 378.0 795.1 382.3 786.9C387.2 777.6 392.1 770.9 397.0 765.5C403.1 758.7 409.2 752.1 415.4 749.4C421.5 746.8 427.6 744.1 433.7 744.1C441.4 744.1 449.0 749.4 456.7 749.4C464.3 749.4 472.0 748.0 479.7 746.8C488.8 745.3 498.0 738.7 507.2 738.7C513.3 738.7 519.5 744.0 525.6 749.4C530.2 753.6 534.8 763.2 539.4 773.5C544.0 783.8 548.5 798.7 553.1 816.3C557.7 834.0 562.3 859.7 566.9 885.9C570.0 903.3 573.0 938.6 576.1 944.7C578.3 949.0 580.4 952.8 582.5 952.8C585.0 952.8 587.4 946.3 589.9 942.1C593.9 935.1 597.8 926.7 601.8 915.3C606.4 902.1 611.0 878.0 615.6 859.1C619.9 841.5 624.2 814.8 628.5 805.6C632.1 797.8 635.8 789.6 639.5 789.6C642.9 789.6 646.2 798.3 649.6 805.6C653.6 814.3 657.6 829.2 661.5 848.4C665.2 866.2 668.9 898.5 672.6 928.7C675.6 953.8 678.7 985.2 681.7 1014.3C684.5 1040.5 687.3 1061.1 690.0 1094.5C694.0 1057.7 698.0 1032.7 702.0 1006.3C705.9 979.8 709.9 957.7 713.9 934.0C718.5 906.8 723.1 880.5 727.7 853.8C732.3 827.0 736.9 801.1 741.5 773.5C746.1 745.9 750.6 715.5 755.2 687.9C758.9 665.9 762.6 644.2 766.3 623.7C769.9 603.2 773.6 584.3 777.3 564.9C780.3 548.7 783.4 532.2 786.5 516.7C788.5 506.6 790.4 496.9 792.4 487.3C794.1 479.1 795.8 470.7 797.5 463.2C799.9 452.3 802.4 443.7 804.8 432.4C806.5 424.7 808.2 414.4 809.9 407.0C812.5 395.7 815.1 389.2 817.7 377.6C819.2 370.8 820.8 359.8 822.3 353.5C825.7 339.8 829.0 332.0 832.4 321.4C834.8 313.8 837.3 305.1 839.7 298.7C844.0 287.5 848.3 279.8 852.6 270.6C856.3 262.8 860.0 253.3 863.6 247.6C870.7 236.6 877.7 228.1 884.8 222.5C889.0 219.0 893.3 214.4 897.6 214.4C901.0 214.4 904.4 215.2 907.7 216.0C912.0 217.0 916.3 219.5 920.6 222.5C924.6 225.2 928.5 230.2 932.5 235.8C936.2 241.1 939.9 249.0 943.6 257.2C947.2 265.5 950.9 274.0 954.6 286.7C958.6 300.4 962.5 323.8 966.5 345.5C969.9 363.9 973.3 383.1 976.6 407.0C979.1 424.5 981.5 448.1 984.0 468.6C986.4 489.1 988.9 507.3 991.3 530.1C993.5 550.0 995.6 573.4 997.7 597.0C999.6 617.2 1001.4 644.3 1003.3 661.2C1005.4 680.8 1007.5 702.0 1009.7 709.3C1012.1 717.7 1014.6 725.4 1017.0 725.4C1022.2 725.4 1027.5 700.9 1032.7 690.6C1038.2 679.7 1043.7 661.2 1049.2 661.2C1054.4 661.2 1059.6 683.8 1064.8 693.3C1068.2 699.4 1071.5 706.5 1074.9 710.1C1079.2 714.7 1083.5 720.0 1087.8 720.0C1091.8 720.0 1095.7 714.6 1099.7 710.1C1107.4 701.6 1115.0 674.7 1122.7 664.9C1127.6 658.6 1132.5 650.5 1137.4 650.5C1147.8 650.5 1158.2 659.6 1168.6 666.5C1176.4 671.7 1184.2 676.3 1192.0 687.9C1194.9 692.2 1197.9 702.4 1200.8 712.0C1204.4 724.1 1208.1 737.8 1211.8 757.5C1214.2 770.6 1216.7 796.4 1219.1 811.0C1222.2 829.1 1225.3 843.3 1228.3 856.4C1231.4 869.6 1234.4 882.2 1237.5 891.2C1242.1 904.7 1246.7 919.4 1251.3 923.3C1255.6 926.9 1259.9 930.0 1264.1 930.0C1269.0 930.0 1273.9 924.1 1278.8 918.0C1283.4 912.3 1288.0 896.0 1292.6 883.2C1297.2 870.4 1301.8 855.5 1306.4 840.4C1311.0 825.3 1315.6 810.9 1320.2 792.2C1324.8 773.6 1329.4 749.8 1334.0 725.4C1337.3 707.5 1340.7 682.3 1344.1 666.5C1348.0 647.8 1352.0 628.4 1356.0 620.0C1359.4 612.8 1362.7 610.2 1366.1 605.0C1368.9 600.7 1371.6 593.4 1374.4 591.6C1377.7 589.4 1381.1 587.6 1384.5 587.6C1389.1 587.6 1393.7 595.0 1398.3 599.6C1401.6 603.0 1405.0 610.9 1408.4 611.4C1415.7 612.5 1423.1 612.0 1430.4 613.0C1438.1 614.1 1445.7 633.3 1453.4 645.1C1462.6 659.3 1471.8 686.6 1480.9 693.3C1488.6 698.8 1496.2 704.0 1503.9 704.0C1510.0 704.0 1516.2 686.4 1522.3 671.9C1527.8 658.8 1533.3 636.5 1538.8 611.4C1540.6 603.0 1542.5 585.7 1544.3 580.9C1548.8 569.3 1553.2 568.5 1557.6 560.3C1561.7 552.9 1565.7 535.2 1569.7 532.8C1573.5 530.5 1577.3 528.8 1581.1 528.8C1586.0 528.8 1590.9 533.2 1595.8 538.1C1599.6 542.0 1603.5 550.8 1607.3 562.2C1609.0 567.1 1610.6 577.0 1612.3 583.6C1615.2 595.2 1618.1 606.8 1621.0 615.7C1624.9 627.3 1628.7 638.8 1632.5 645.1C1638.6 655.2 1644.8 666.5 1650.9 666.5C1658.5 666.5 1666.2 664.2 1673.8 661.2C1683.0 657.5 1692.2 624.4 1701.4 618.4C1707.5 614.3 1713.7 610.3 1719.8 610.3C1727.1 610.3 1734.5 623.4 1741.8 634.4C1749.8 646.4 1757.7 676.2 1765.7 693.3C1772.8 708.3 1779.8 730.6 1786.8 733.4C1795.1 736.7 1803.4 738.7 1811.6 738.7C1817.8 738.7 1823.9 720.9 1830.0 712.0C1836.1 703.1 1842.3 686.9 1848.4 685.2C1854.5 683.6 1860.6 682.6 1866.8 682.6C1877.2 682.6 1887.6 725.4 1898.0 725.4C1899.8 725.4 1901.7 725.4 1903.5 725.4" stroke="#872491" stroke-width="3.8" stroke-dasharray="36 21"/>
<path d="M250.0 669.2C253.4 667.9 256.7 665.4 260.1 665.4C265.9 665.4 271.7 680.2 277.6 695.9C281.8 707.6 286.1 734.7 290.4 765.5C294.4 794.1 298.4 847.0 302.4 891.2C306.6 938.8 310.9 979.4 315.2 1042.4C319.2 968.2 323.2 911.2 327.2 864.5C331.5 814.1 335.7 774.5 340.0 740.3C344.3 706.2 348.6 664.1 352.9 653.1C358.1 639.8 363.3 629.1 368.5 629.1C373.1 629.1 377.7 645.6 382.3 661.2C386.6 675.7 390.9 709.9 395.1 740.3C399.1 768.7 403.1 816.1 407.1 840.4C410.1 859.1 413.2 866.6 416.3 885.3C419.3 866.6 422.4 859.0 425.5 840.4C430.4 810.6 435.3 751.6 440.2 715.5C446.0 672.6 451.8 622.1 457.6 602.9C464.6 579.6 471.7 556.8 478.7 556.8C485.0 556.8 491.3 579.3 497.6 602.9C502.6 621.8 507.7 675.4 512.7 715.5C517.6 754.3 522.5 814.8 527.4 840.4C529.9 853.2 532.3 857.6 534.8 869.8C537.2 852.0 539.7 844.4 542.1 827.0C546.4 796.6 550.7 736.4 555.0 702.9C560.8 657.4 566.6 608.1 572.4 590.3C579.2 569.7 585.9 550.4 592.6 550.4C598.5 550.4 604.3 563.4 610.1 578.2C615.0 590.8 619.9 643.8 624.8 665.4C630.0 688.5 635.2 697.4 640.4 720.3C644.1 704.6 647.8 697.9 651.4 682.6C654.2 671.1 656.9 656.3 659.7 639.8C662.5 623.2 665.2 601.8 668.0 580.9C670.7 560.0 673.5 533.4 676.2 514.0C678.4 499.0 680.5 485.0 682.7 473.9C685.7 458.0 688.8 445.1 691.9 433.8C694.6 423.6 697.4 414.7 700.1 407.0C703.8 396.8 707.5 390.0 711.1 380.3C715.7 368.2 720.3 352.1 724.9 340.2C737.5 307.6 750.0 277.9 762.6 255.1C770.1 241.5 777.5 228.9 785.0 220.0C788.9 215.5 792.7 210.7 796.6 208.5C800.6 206.2 804.7 203.7 808.8 203.7C813.3 203.7 817.8 206.8 822.3 209.6C827.4 212.8 832.5 220.1 837.5 227.5C845.9 239.9 854.3 260.8 862.7 280.0C871.0 298.8 879.2 318.3 887.5 342.6C895.8 367.0 904.2 397.3 912.5 430.0C920.0 459.5 927.5 503.7 935.0 530.1C937.0 537.2 939.1 541.5 941.1 548.8C942.7 554.8 944.4 564.5 946.0 569.9C948.6 578.4 951.1 584.6 953.7 590.0C955.3 593.4 956.9 598.8 958.5 598.8C961.0 598.8 963.5 594.0 966.1 590.0C969.4 584.8 972.7 572.2 976.1 564.9C979.4 557.5 982.7 548.0 986.1 545.1C988.1 543.2 990.2 541.3 992.2 541.3C995.2 541.3 998.1 549.6 1001.1 555.0C1004.4 561.1 1007.7 569.2 1011.1 577.4C1014.4 585.7 1017.7 596.6 1021.1 605.0C1023.6 611.2 1026.0 622.4 1028.5 622.4C1031.9 622.4 1035.2 610.0 1038.5 602.6C1041.9 595.2 1045.2 585.3 1048.5 577.4C1051.9 569.5 1055.2 562.0 1058.6 555.0C1061.0 549.7 1063.5 547.1 1066.0 540.0C1069.3 530.5 1072.7 492.0 1076.0 487.3C1079.3 482.7 1082.6 479.3 1085.9 479.3C1091.0 479.3 1096.0 487.6 1101.0 492.6C1107.6 499.3 1114.2 516.2 1120.8 516.2C1130.0 516.2 1139.2 498.0 1148.4 498.0C1154.2 498.0 1160.0 505.9 1165.9 510.0C1172.6 514.8 1179.3 524.7 1186.1 524.7C1195.3 524.7 1204.4 500.7 1213.6 500.7C1219.4 500.7 1225.3 506.8 1231.1 512.4C1237.8 518.9 1244.5 540.0 1251.3 547.5C1255.7 552.4 1260.1 558.7 1264.5 558.7C1268.7 558.7 1272.8 554.2 1277.0 552.6C1282.0 550.5 1287.1 547.5 1292.1 547.5C1296.2 547.5 1300.4 552.5 1304.6 555.0C1308.7 557.5 1312.9 562.5 1317.1 562.5C1322.1 562.5 1327.1 557.5 1332.1 555.0C1337.0 552.5 1341.9 548.5 1346.8 547.5C1350.2 546.8 1353.6 546.1 1356.9 546.1C1360.3 546.1 1363.7 550.7 1367.0 555.0C1370.4 559.2 1373.8 568.1 1377.1 577.4C1380.5 586.8 1383.9 600.6 1387.2 614.9C1390.6 629.2 1394.0 646.1 1397.3 664.9C1400.6 683.1 1403.8 706.9 1407.1 727.5C1410.4 748.7 1413.8 767.0 1417.1 790.1C1420.3 812.4 1423.5 840.6 1426.7 865.0C1430.1 890.6 1433.5 917.2 1436.8 939.9C1440.2 962.6 1443.6 977.2 1447.0 1002.5C1449.3 1020.2 1451.7 1040.6 1454.0 1067.8C1455.9 1040.6 1457.7 1023.9 1459.5 1002.5C1462.1 972.9 1464.6 942.1 1467.2 915.0C1470.5 879.1 1473.9 843.5 1477.3 815.0C1480.6 786.4 1484.0 757.2 1487.4 740.1C1490.6 723.6 1493.9 709.9 1497.1 702.4C1501.2 692.9 1505.3 686.1 1509.4 682.6C1513.7 678.9 1518.0 675.1 1522.3 675.1C1526.4 675.1 1530.5 679.2 1534.6 685.0C1537.1 688.5 1539.6 702.6 1542.1 714.9C1544.7 727.6 1547.3 744.5 1549.8 765.0C1552.3 784.4 1554.7 814.9 1557.2 839.9C1559.6 864.9 1562.1 892.3 1564.5 915.0C1567.0 937.8 1569.4 961.8 1571.9 977.6C1574.9 997.5 1578.0 1005.2 1581.1 1025.0C1583.7 1000.0 1586.3 990.5 1589.0 965.1C1591.5 940.8 1594.0 896.1 1596.5 865.0C1599.0 833.9 1601.5 802.2 1604.0 777.5C1606.5 753.5 1608.9 730.5 1611.4 714.9C1614.7 693.5 1618.1 676.0 1621.5 664.9C1624.9 653.8 1628.2 644.2 1631.6 640.0C1635.7 634.9 1639.9 631.4 1644.0 629.9C1647.3 628.7 1650.7 627.5 1654.0 627.5C1657.3 627.5 1660.7 631.1 1664.0 635.0C1666.5 637.9 1669.0 644.6 1671.6 652.6C1674.0 660.5 1676.5 675.9 1679.0 690.1C1681.5 704.4 1684.0 723.4 1686.5 740.1C1689.0 756.8 1691.5 773.3 1694.1 790.1C1696.5 806.5 1699.0 825.7 1701.4 839.9C1703.5 852.3 1705.7 865.2 1707.8 872.5C1709.1 876.7 1710.3 878.3 1711.5 882.4C1713.2 875.2 1714.9 873.0 1716.6 865.0C1719.0 853.2 1721.5 823.1 1724.0 802.4C1726.5 781.5 1729.0 755.7 1731.5 740.1C1734.0 724.4 1736.6 710.9 1739.1 702.4C1742.4 691.1 1745.7 681.3 1749.0 677.5C1752.3 673.6 1755.7 670.8 1759.0 670.0C1762.3 669.2 1765.7 668.7 1769.0 668.7C1772.4 668.7 1775.7 674.4 1779.0 679.9C1782.4 685.4 1785.7 698.4 1789.0 710.1C1792.4 721.8 1795.7 738.8 1799.1 752.1C1802.4 765.4 1805.7 778.4 1809.1 790.1C1812.4 801.7 1815.7 812.8 1819.0 822.5C1821.5 829.8 1824.0 839.4 1826.5 842.5C1829.0 845.7 1831.5 848.7 1834.1 848.7C1836.5 848.7 1839.0 840.9 1841.5 835.0C1844.0 829.1 1846.5 818.2 1849.0 809.9C1852.4 798.9 1855.7 787.0 1859.0 777.5C1862.4 768.0 1865.7 757.6 1869.1 752.1C1872.4 746.7 1875.7 741.5 1879.1 740.1C1882.4 738.6 1885.7 737.4 1889.1 737.4C1892.4 737.4 1895.6 742.4 1898.9 747.6C1900.4 750.0 1902.0 756.0 1903.5 760.1" stroke="#ff00ff" stroke-width="4.0"/>
<path d="M250.0 805.6C253.1 814.5 256.1 825.1 259.2 832.4C263.8 843.2 268.4 859.1 273.0 859.1C277.6 859.1 282.2 847.2 286.7 837.7C292.9 825.1 299.0 794.8 305.1 778.9C311.2 763.0 317.4 750.1 323.5 738.7C329.6 727.4 335.7 716.2 341.9 709.3C348.0 702.4 354.1 694.8 360.2 693.3C366.4 691.7 372.5 690.6 378.6 690.6C384.7 690.6 390.9 696.6 397.0 698.6C405.2 701.4 413.5 703.5 421.8 705.3C428.8 706.9 435.9 707.5 442.9 709.3C450.0 711.1 457.0 716.0 464.0 717.3C470.8 718.7 477.5 718.4 484.2 720.0C490.7 721.5 497.1 738.7 503.5 738.7C507.8 738.7 512.1 726.0 516.4 720.0C522.5 711.5 528.6 698.7 534.8 695.9C537.8 694.6 540.9 693.3 544.0 693.3C548.5 693.3 553.1 702.8 557.7 709.3C560.8 713.7 563.9 718.8 566.9 725.4C571.5 735.2 576.1 751.3 580.7 765.5C585.3 779.7 589.9 800.2 594.5 811.0C597.8 818.9 601.2 824.6 604.6 829.7C607.3 833.9 610.1 840.4 612.9 840.4C615.6 840.4 618.4 815.8 621.1 792.2C623.0 776.5 624.8 736.3 626.6 712.0C628.5 687.7 630.3 657.2 632.1 645.1C634.6 629.0 637.0 624.5 639.5 613.0C641.0 605.8 642.6 598.4 644.1 590.0C645.9 580.0 647.8 566.1 649.6 556.8C651.9 545.4 654.1 536.0 656.4 527.4C658.8 518.1 661.3 510.1 663.7 502.5C666.4 494.4 669.0 486.0 671.6 480.1C676.8 468.4 682.1 460.1 687.3 452.5C692.3 445.2 697.4 440.1 702.4 433.8C709.5 425.0 716.5 420.0 723.5 407.0C726.1 402.3 728.7 392.1 731.4 385.6C735.9 374.2 740.5 366.3 745.1 354.9C747.9 348.0 750.6 338.7 753.4 332.1C758.0 321.2 762.6 311.3 767.2 303.8C771.8 296.3 776.4 288.8 781.0 285.1C786.2 280.8 791.4 277.5 796.6 276.0C801.2 274.6 805.8 273.3 810.4 273.3C817.7 273.3 825.1 277.9 832.4 280.0C841.6 282.6 850.8 283.4 860.0 287.5C866.7 290.4 873.4 297.1 880.2 308.1C882.6 312.1 885.1 321.9 887.5 329.5C890.9 339.8 894.3 347.7 897.6 362.6C899.2 369.8 900.9 385.4 902.5 392.6C905.0 403.7 907.5 407.8 910.0 417.7C914.2 434.1 918.3 456.8 922.4 480.1C925.5 497.3 928.5 497.6 931.6 538.1C932.2 546.2 932.8 606.3 933.4 618.4C934.7 642.4 935.9 652.5 937.1 661.2C938.3 669.9 939.6 672.1 940.8 679.9C942.6 665.4 944.5 655.1 946.3 645.1C948.8 631.8 951.2 617.9 953.7 610.3C956.4 601.8 959.2 597.4 961.9 591.6C966.5 582.0 971.1 571.6 975.7 564.9C980.3 558.2 984.9 548.8 989.5 548.8C994.1 548.8 998.7 554.2 1003.3 559.5C1007.9 564.9 1012.4 582.3 1017.0 591.6C1021.0 599.7 1025.0 613.0 1029.0 613.0C1032.7 613.0 1036.3 603.1 1040.0 597.0C1043.7 590.9 1047.4 581.7 1051.0 575.6C1054.7 569.5 1058.4 564.1 1062.1 559.5C1067.0 553.4 1071.9 544.8 1076.8 543.5C1085.9 540.9 1095.1 539.8 1104.3 539.5C1111.7 539.2 1119.0 538.9 1126.4 538.9C1131.3 538.9 1136.2 545.5 1141.1 549.9C1148.6 556.6 1156.1 562.1 1163.6 575.6C1166.2 580.2 1168.8 592.7 1171.4 599.6C1174.6 608.3 1177.8 617.8 1181.0 622.4C1184.5 627.4 1188.1 632.4 1191.6 633.1C1195.9 633.9 1200.2 634.4 1204.4 634.4C1215.3 634.4 1226.2 631.8 1237.0 627.5C1242.1 625.5 1247.2 615.1 1252.2 608.7C1258.8 600.5 1265.4 593.2 1272.0 583.6C1278.9 573.7 1285.8 558.0 1292.6 548.8C1300.6 538.2 1308.5 522.6 1316.5 522.6C1325.5 522.6 1334.6 531.4 1343.6 539.7C1351.1 546.6 1358.6 563.6 1366.1 575.6C1372.2 585.3 1378.4 598.9 1384.5 605.0C1390.6 611.1 1396.7 618.4 1402.9 618.4C1409.0 618.4 1415.1 618.4 1421.2 618.4C1426.1 618.4 1431.0 615.3 1435.9 611.4C1440.5 607.8 1445.1 590.6 1449.7 580.9C1453.1 573.8 1456.4 566.0 1459.8 560.3C1466.9 548.5 1473.9 538.5 1480.9 531.2C1484.6 527.3 1488.3 521.5 1492.0 521.5C1495.3 521.5 1498.7 526.6 1502.1 530.1C1506.4 534.6 1510.6 538.4 1514.9 548.3C1516.6 552.2 1518.3 563.6 1520.0 570.2C1522.9 581.7 1525.8 593.0 1528.7 601.2C1532.7 612.6 1536.7 622.8 1540.6 629.1C1545.2 636.3 1549.8 643.6 1554.4 645.1C1559.0 646.6 1563.6 647.8 1568.2 647.8C1572.8 647.8 1577.4 639.7 1582.0 634.4C1587.5 628.0 1593.0 620.3 1598.5 610.3C1604.3 599.9 1610.2 582.3 1616.0 568.9C1620.6 558.3 1625.2 540.4 1629.8 538.1C1632.8 536.6 1635.9 535.4 1638.9 535.4C1642.0 535.4 1645.1 546.9 1648.1 553.4C1652.1 561.7 1656.1 569.0 1660.1 580.9C1663.1 590.0 1666.2 606.2 1669.3 618.4C1673.8 636.7 1678.4 656.9 1683.0 671.9C1689.2 691.8 1695.3 717.0 1701.4 722.7C1706.0 727.0 1710.6 730.7 1715.2 730.7C1719.8 730.7 1724.4 700.2 1729.0 685.2C1732.0 675.3 1735.1 657.7 1738.2 655.8C1747.3 650.1 1756.5 647.8 1765.7 647.8C1773.4 647.8 1781.0 652.3 1788.7 655.8C1796.3 659.4 1804.0 663.5 1811.6 671.9C1817.8 678.6 1823.9 701.8 1830.0 714.7C1837.1 729.4 1844.1 754.8 1851.1 754.8C1857.9 754.8 1864.6 737.2 1871.3 725.4C1877.5 714.6 1883.6 700.2 1889.7 685.2C1894.3 674.1 1898.9 660.3 1903.5 647.8" stroke="#ff00ff" stroke-width="4.0" stroke-dasharray="36 21"/>
</g>
<g stroke="#000" stroke-width="3.2" fill="none">
<line x1="342" y1="179.2" x2="1091" y2="172.9"/>
<line x1="351.5" y1="272.9" x2="799" y2="272.9"/>
<line x1="396.5" y1="200" x2="396.5" y2="240" stroke-width="2.6"/>
</g>
<path d="M396.5 161 L421 210 L372 210 Z" fill="#000"/>
<path d="M396.5 277 L421 228 L372 228 Z" fill="#000"/>
<text class="an" x="441" y="248">4.03dB</text>
<text class="tk" x="225" y="1822.2" text-anchor="end">-40</text>
<text class="tk" x="225" y="1688.4" text-anchor="end">-35</text>
<text class="tk" x="225" y="1554.7" text-anchor="end">-30</text>
<text class="tk" x="225" y="1420.9" text-anchor="end">-25</text>
<text class="tk" x="225" y="1287.2" text-anchor="end">-20</text>
<text class="tk" x="225" y="1153.4" text-anchor="end">-15</text>
<text class="tk" x="225" y="1019.7" text-anchor="end">-10</text>
<text class="tk" x="225" y="885.9" text-anchor="end">-5</text>
<text class="tk" x="225" y="752.2" text-anchor="end">0</text>
<text class="tk" x="225" y="618.4" text-anchor="end">5</text>
<text class="tk" x="225" y="484.7" text-anchor="end">10</text>
<text class="tk" x="225" y="350.9" text-anchor="end">15</text>
<text class="tk" x="225" y="217.2" text-anchor="end">20</text>
<text class="tk" x="225" y="83.4" text-anchor="end">25</text>
<text class="tk" x="249.5" y="1887.5" text-anchor="middle">-90</text>
<text class="tk" x="525.1" y="1887.5" text-anchor="middle">-60</text>
<text class="tk" x="800.7" y="1887.5" text-anchor="middle">-30</text>
<text class="tk" x="1076.2" y="1887.5" text-anchor="middle">0</text>
<text class="tk" x="1351.8" y="1887.5" text-anchor="middle">30</text>
<text class="tk" x="1627.4" y="1887.5" text-anchor="middle">60</text>
<text class="tk" x="1903.0" y="1887.5" text-anchor="middle">90</text>
<text class="lb" x="831.5" y="1984">Theta</text>
<text x="1066" y="1984" style="font-family:'Liberation Serif',serif;font-style:italic;font-weight:normal;font-size:81px;fill:#222">θ</text>
<text class="lb" x="1127" y="1984">(deg)</text>
<text class="lb" transform="translate(94 1315) rotate(-90)">Realized Gain G (dB)</text>
<line x1="288.7" y1="1246.0" x2="432.0" y2="1246.0" stroke="#ff0000" stroke-width="5.1"/>
<text class="lg" x="443.0" y="1269.0">S-Gain(FSL=0mm)</text>
<line x1="288.7" y1="1322.3" x2="432.0" y2="1322.3" stroke="#ff0000" stroke-width="5.1" stroke-dasharray="36 21"/>
<text class="lg" x="443.0" y="1345.3">M-Gain(FSL=0mm)</text>
<line x1="288.7" y1="1398.7" x2="432.0" y2="1398.7" stroke="#00ff00" stroke-width="6.5"/>
<text class="lg" x="443.0" y="1421.7">S-Gain(FSL=-26mm)</text>
<line x1="288.7" y1="1475.0" x2="432.0" y2="1475.0" stroke="#00ff00" stroke-width="6.5" stroke-dasharray="36 21"/>
<text class="lg" x="443.0" y="1498.0">M-Gain(FSL=-26mm)</text>
<line x1="288.7" y1="1551.4" x2="432.0" y2="1551.4" stroke="#0000ff" stroke-width="5.3"/>
<text class="lg" x="443.0" y="1574.4">S-Gain(FSL=-45mm)</text>
<line x1="288.7" y1="1627.8" x2="432.0" y2="1627.8" stroke="#0000ff" stroke-width="5.3" stroke-dasharray="36 21"/>
<text class="lg" x="443.0" y="1650.8">M-Gain(FSL=-45mm)</text>
<line x1="288.7" y1="1704.1" x2="432.0" y2="1704.1" stroke="#00ffff" stroke-width="6.5"/>
<text class="lg" x="443.0" y="1727.1">S-Gain(FSL=-65mm)</text>
<line x1="1095.3" y1="1246.0" x2="1238.7" y2="1246.0" stroke="#00ffff" stroke-width="6.5" stroke-dasharray="36 21"/>
<text class="lg" x="1248.4" y="1269.0">M-Gain(FSL=-65mm)</text>
<line x1="1095.3" y1="1322.3" x2="1238.7" y2="1322.3" stroke="#000000" stroke-width="5.1"/>
<text class="lg" x="1248.4" y="1345.3">S-Gain(FSL=26mm)</text>
<line x1="1095.3" y1="1398.7" x2="1238.7" y2="1398.7" stroke="#000000" stroke-width="5.1" stroke-dasharray="36 21"/>
<text class="lg" x="1248.4" y="1421.7">M-Gain(FSL=26mm)</text>
<line x1="1095.3" y1="1475.0" x2="1238.7" y2="1475.0" stroke="#872491" stroke-width="4.9"/>
<text class="lg" x="1248.4" y="1498.0">S-Gain(FSL=45mm)</text>
<line x1="1095.3" y1="1551.4" x2="1238.7" y2="1551.4" stroke="#872491" stroke-width="4.9" stroke-dasharray="36 21"/>
<text class="lg" x="1248.4" y="1574.4">M-Gain(FSL=45)</text>
<line x1="1095.3" y1="1627.8" x2="1238.7" y2="1627.8" stroke="#ff00ff" stroke-width="5.1"/>
<text class="lg" x="1248.4" y="1650.8">S-Gain(FSL=65mm)</text>
<line x1="1095.3" y1="1704.1" x2="1238.7" y2="1704.1" stroke="#ff00ff" stroke-width="5.1" stroke-dasharray="36 21"/>
<text class="lg" x="1248.4" y="1727.1">M-Gain(FSL=65mm)</text>
</g>
</svg></body></html>
